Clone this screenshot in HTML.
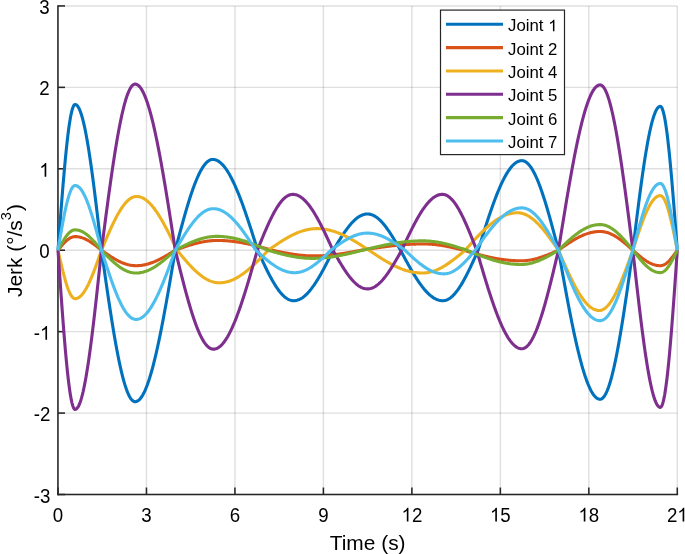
<!DOCTYPE html>
<html><head><meta charset="utf-8"><style>
html,body{margin:0;padding:0;background:#fff;overflow:hidden;}
svg{display:block;will-change:transform;}
</style></head><body>
<svg width="685" height="554" viewBox="0 0 685 554"><rect width="685" height="554" fill="#ffffff"/><g stroke="#262626" stroke-opacity="0.15" stroke-width="1.4"><line x1="58.00" y1="5.93" x2="58.00" y2="494.51"/><line x1="146.47" y1="5.93" x2="146.47" y2="494.51"/><line x1="234.94" y1="5.93" x2="234.94" y2="494.51"/><line x1="323.41" y1="5.93" x2="323.41" y2="494.51"/><line x1="411.88" y1="5.93" x2="411.88" y2="494.51"/><line x1="500.35" y1="5.93" x2="500.35" y2="494.51"/><line x1="588.82" y1="5.93" x2="588.82" y2="494.51"/><line x1="677.29" y1="5.93" x2="677.29" y2="494.51"/><line x1="58.00" y1="494.51" x2="677.29" y2="494.51"/><line x1="58.00" y1="413.08" x2="677.29" y2="413.08"/><line x1="58.00" y1="331.65" x2="677.29" y2="331.65"/><line x1="58.00" y1="250.22" x2="677.29" y2="250.22"/><line x1="58.00" y1="168.79" x2="677.29" y2="168.79"/><line x1="58.00" y1="87.36" x2="677.29" y2="87.36"/><line x1="58.00" y1="5.93" x2="677.29" y2="5.93"/></g><g stroke="#262626" stroke-width="1.55" stroke-linecap="butt"><line x1="57.95" y1="5.15" x2="57.95" y2="495.28"/><line x1="57.18" y1="494.51" x2="678.06" y2="494.51"/><line x1="57.95" y1="494.51" x2="65.00" y2="494.51"/><line x1="57.95" y1="413.08" x2="65.00" y2="413.08"/><line x1="57.95" y1="331.65" x2="65.00" y2="331.65"/><line x1="57.95" y1="250.22" x2="65.00" y2="250.22"/><line x1="57.95" y1="168.79" x2="65.00" y2="168.79"/><line x1="57.95" y1="87.36" x2="65.00" y2="87.36"/><line x1="57.95" y1="5.93" x2="65.00" y2="5.93"/><line x1="58.00" y1="494.51" x2="58.00" y2="487.51"/><line x1="146.47" y1="494.51" x2="146.47" y2="487.51"/><line x1="234.94" y1="494.51" x2="234.94" y2="487.51"/><line x1="323.41" y1="494.51" x2="323.41" y2="487.51"/><line x1="411.88" y1="494.51" x2="411.88" y2="487.51"/><line x1="500.35" y1="494.51" x2="500.35" y2="487.51"/><line x1="588.82" y1="494.51" x2="588.82" y2="487.51"/><line x1="677.29" y1="494.51" x2="677.29" y2="487.51"/></g><path d="M58.00,250.22 L58.74,240.35 L59.47,230.53 L60.21,220.80 L60.95,211.20 L61.69,201.78 L62.42,192.59 L63.16,183.66 L63.90,175.03 L64.64,166.75 L65.37,158.85 L66.11,151.38 L66.85,144.35 L67.58,137.81 L68.32,131.79 L69.06,126.31 L69.80,121.40 L70.53,117.07 L71.27,113.36 L72.01,110.28 L72.75,107.84 L73.48,106.06 L74.22,104.93 L74.96,104.47 L75.69,104.55 L76.43,104.92 L77.17,105.57 L77.91,106.50 L78.64,107.70 L79.38,109.18 L80.12,110.93 L80.85,112.95 L81.59,115.23 L82.33,117.77 L83.07,120.57 L83.80,123.61 L84.54,126.90 L85.28,130.43 L86.02,134.19 L86.75,138.17 L87.49,142.37 L88.23,146.77 L88.96,151.38 L89.70,156.17 L90.44,161.15 L91.18,166.29 L91.91,171.60 L92.65,177.06 L93.39,182.66 L94.13,188.39 L94.86,194.24 L95.60,200.20 L96.34,206.25 L97.07,212.39 L97.81,218.60 L98.55,224.88 L99.29,231.20 L100.02,237.56 L100.76,243.94 L101.50,250.31 L102.23,255.52 L102.97,260.73 L103.71,265.92 L104.45,271.09 L105.18,276.24 L105.92,281.36 L106.66,286.44 L107.40,291.48 L108.13,296.47 L108.87,301.40 L109.61,306.28 L110.34,311.09 L111.08,315.82 L111.82,320.48 L112.56,325.05 L113.29,329.54 L114.03,333.93 L114.77,338.23 L115.51,342.42 L116.24,346.50 L116.98,350.46 L117.72,354.31 L118.45,358.03 L119.19,361.63 L119.93,365.09 L120.67,368.42 L121.40,371.61 L122.14,374.65 L122.88,377.55 L123.62,380.30 L124.35,382.89 L125.09,385.33 L125.83,387.60 L126.56,389.71 L127.30,391.66 L128.04,393.44 L128.78,395.05 L129.51,396.49 L130.25,397.76 L130.99,398.85 L131.72,399.76 L132.46,400.50 L133.20,401.06 L133.94,401.44 L134.67,401.64 L135.41,401.67 L136.15,401.56 L136.89,401.33 L137.62,400.96 L138.36,400.48 L139.10,399.87 L139.83,399.13 L140.57,398.27 L141.31,397.29 L142.05,396.18 L142.78,394.95 L143.52,393.60 L144.26,392.14 L145.00,390.55 L145.73,388.85 L146.47,387.03 L147.21,385.10 L147.94,383.06 L148.68,380.91 L149.42,378.64 L150.16,376.27 L150.89,373.80 L151.63,371.22 L152.37,368.55 L153.11,365.77 L153.84,362.90 L154.58,359.93 L155.32,356.87 L156.05,353.73 L156.79,350.50 L157.53,347.18 L158.27,343.78 L159.00,340.31 L159.74,336.76 L160.48,333.14 L161.21,329.45 L161.95,325.69 L162.69,321.88 L163.43,318.00 L164.16,314.06 L164.90,310.07 L165.64,306.04 L166.38,301.95 L167.11,297.83 L167.85,293.66 L168.59,289.46 L169.32,285.22 L170.06,280.96 L170.80,276.67 L171.54,272.35 L172.27,268.02 L173.01,263.68 L173.75,259.32 L174.49,254.96 L175.22,250.59 L175.96,247.65 L176.70,244.85 L177.43,242.05 L178.17,239.26 L178.91,236.49 L179.65,233.72 L180.38,230.97 L181.12,228.24 L181.86,225.53 L182.60,222.84 L183.33,220.18 L184.07,217.55 L184.81,214.95 L185.54,212.38 L186.28,209.85 L187.02,207.36 L187.76,204.91 L188.49,202.50 L189.23,200.14 L189.97,197.82 L190.70,195.56 L191.44,193.34 L192.18,191.18 L192.92,189.08 L193.65,187.04 L194.39,185.05 L195.13,183.13 L195.87,181.28 L196.60,179.48 L197.34,177.76 L198.08,176.10 L198.81,174.52 L199.55,173.01 L200.29,171.57 L201.03,170.21 L201.76,168.92 L202.50,167.71 L203.24,166.58 L203.98,165.53 L204.71,164.56 L205.45,163.67 L206.19,162.86 L206.92,162.14 L207.66,161.50 L208.40,160.95 L209.14,160.48 L209.87,160.10 L210.61,159.80 L211.35,159.59 L212.09,159.46 L212.82,159.43 L213.56,159.46 L214.30,159.55 L215.03,159.71 L215.77,159.92 L216.51,160.20 L217.25,160.54 L217.98,160.93 L218.72,161.38 L219.46,161.90 L220.19,162.47 L220.93,163.10 L221.67,163.79 L222.41,164.54 L223.14,165.34 L223.88,166.20 L224.62,167.12 L225.36,168.09 L226.09,169.12 L226.83,170.20 L227.57,171.33 L228.30,172.52 L229.04,173.75 L229.78,175.04 L230.52,176.38 L231.25,177.77 L231.99,179.21 L232.73,180.69 L233.47,182.22 L234.20,183.79 L234.94,185.41 L235.68,187.08 L236.41,188.78 L237.15,190.53 L237.89,192.31 L238.63,194.14 L239.36,196.00 L240.10,197.89 L240.84,199.83 L241.58,201.79 L242.31,203.79 L243.05,205.82 L243.79,207.88 L244.52,209.97 L245.26,212.08 L246.00,214.22 L246.74,216.38 L247.47,218.57 L248.21,220.77 L248.95,223.00 L249.69,225.24 L250.42,227.50 L251.16,229.78 L251.90,232.07 L252.63,234.37 L253.37,236.68 L254.11,239.01 L254.85,241.33 L255.58,243.67 L256.32,246.01 L257.06,248.35 L257.79,250.55 L258.53,252.17 L259.27,253.79 L260.01,255.41 L260.74,257.02 L261.48,258.63 L262.22,260.22 L262.96,261.81 L263.69,263.38 L264.43,264.94 L265.17,266.49 L265.90,268.02 L266.64,269.53 L267.38,271.02 L268.12,272.48 L268.85,273.93 L269.59,275.35 L270.33,276.74 L271.07,278.11 L271.80,279.45 L272.54,280.76 L273.28,282.04 L274.01,283.28 L274.75,284.49 L275.49,285.66 L276.23,286.80 L276.96,287.90 L277.70,288.96 L278.44,289.98 L279.17,290.96 L279.91,291.90 L280.65,292.79 L281.39,293.64 L282.12,294.45 L282.86,295.21 L283.60,295.92 L284.34,296.59 L285.07,297.21 L285.81,297.78 L286.55,298.30 L287.28,298.77 L288.02,299.19 L288.76,299.56 L289.50,299.88 L290.23,300.14 L290.97,300.36 L291.71,300.52 L292.45,300.64 L293.18,300.70 L293.92,300.70 L294.66,300.67 L295.39,300.59 L296.13,300.46 L296.87,300.30 L297.61,300.09 L298.34,299.84 L299.08,299.54 L299.82,299.20 L300.56,298.83 L301.29,298.41 L302.03,297.94 L302.77,297.44 L303.50,296.90 L304.24,296.31 L304.98,295.69 L305.72,295.03 L306.45,294.33 L307.19,293.59 L307.93,292.82 L308.66,292.01 L309.40,291.16 L310.14,290.28 L310.88,289.36 L311.61,288.41 L312.35,287.43 L313.09,286.41 L313.83,285.37 L314.56,284.29 L315.30,283.18 L316.04,282.05 L316.77,280.89 L317.51,279.70 L318.25,278.49 L318.99,277.25 L319.72,276.00 L320.46,274.71 L321.20,273.41 L321.94,272.09 L322.67,270.75 L323.41,269.39 L324.15,268.01 L324.88,266.62 L325.62,265.22 L326.36,263.80 L327.10,262.37 L327.83,260.93 L328.57,259.48 L329.31,258.03 L330.05,256.56 L330.78,255.09 L331.52,253.62 L332.26,252.14 L332.99,250.67 L333.73,249.36 L334.47,248.14 L335.21,246.92 L335.94,245.70 L336.68,244.49 L337.42,243.28 L338.15,242.08 L338.89,240.89 L339.63,239.71 L340.37,238.55 L341.10,237.39 L341.84,236.26 L342.58,235.13 L343.32,234.03 L344.05,232.94 L344.79,231.87 L345.53,230.83 L346.26,229.80 L347.00,228.80 L347.74,227.83 L348.48,226.88 L349.21,225.95 L349.95,225.06 L350.69,224.19 L351.43,223.35 L352.16,222.54 L352.90,221.77 L353.64,221.03 L354.37,220.32 L355.11,219.64 L355.85,219.00 L356.59,218.40 L357.32,217.83 L358.06,217.30 L358.80,216.81 L359.54,216.35 L360.27,215.94 L361.01,215.56 L361.75,215.22 L362.48,214.92 L363.22,214.67 L363.96,214.45 L364.70,214.27 L365.43,214.14 L366.17,214.05 L366.91,214.00 L367.64,213.99 L368.38,214.02 L369.12,214.10 L369.86,214.22 L370.59,214.38 L371.33,214.59 L372.07,214.85 L372.81,215.15 L373.54,215.49 L374.28,215.87 L375.02,216.29 L375.75,216.76 L376.49,217.27 L377.23,217.82 L377.97,218.41 L378.70,219.03 L379.44,219.70 L380.18,220.40 L380.92,221.14 L381.65,221.91 L382.39,222.72 L383.13,223.57 L383.86,224.44 L384.60,225.35 L385.34,226.29 L386.08,227.26 L386.81,228.25 L387.55,229.28 L388.29,230.32 L389.03,231.40 L389.76,232.49 L390.50,233.61 L391.24,234.75 L391.97,235.90 L392.71,237.08 L393.45,238.27 L394.19,239.48 L394.92,240.69 L395.66,241.92 L396.40,243.16 L397.13,244.41 L397.87,245.67 L398.61,246.93 L399.35,248.20 L400.08,249.47 L400.82,250.78 L401.56,252.17 L402.30,253.55 L403.03,254.93 L403.77,256.31 L404.51,257.68 L405.24,259.05 L405.98,260.41 L406.72,261.76 L407.46,263.10 L408.19,264.44 L408.93,265.76 L409.67,267.07 L410.41,268.37 L411.14,269.66 L411.88,270.93 L412.62,272.18 L413.35,273.42 L414.09,274.64 L414.83,275.85 L415.57,277.03 L416.30,278.19 L417.04,279.33 L417.78,280.46 L418.52,281.55 L419.25,282.63 L419.99,283.68 L420.73,284.70 L421.46,285.70 L422.20,286.67 L422.94,287.62 L423.68,288.53 L424.41,289.42 L425.15,290.28 L425.89,291.11 L426.62,291.90 L427.36,292.67 L428.10,293.40 L428.84,294.10 L429.57,294.77 L430.31,295.41 L431.05,296.01 L431.79,296.57 L432.52,297.10 L433.26,297.60 L434.00,298.06 L434.73,298.49 L435.47,298.87 L436.21,299.22 L436.95,299.54 L437.68,299.82 L438.42,300.06 L439.16,300.26 L439.90,300.42 L440.63,300.55 L441.37,300.64 L442.11,300.69 L442.84,300.71 L443.58,300.67 L444.32,300.58 L445.06,300.44 L445.79,300.24 L446.53,299.99 L447.27,299.69 L448.01,299.33 L448.74,298.93 L449.48,298.47 L450.22,297.95 L450.95,297.39 L451.69,296.78 L452.43,296.11 L453.17,295.40 L453.90,294.64 L454.64,293.83 L455.38,292.98 L456.11,292.08 L456.85,291.13 L457.59,290.15 L458.33,289.11 L459.06,288.04 L459.80,286.93 L460.54,285.78 L461.28,284.59 L462.01,283.36 L462.75,282.10 L463.49,280.80 L464.22,279.47 L464.96,278.11 L465.70,276.72 L466.44,275.30 L467.17,273.85 L467.91,272.38 L468.65,270.89 L469.39,269.37 L470.12,267.83 L470.86,266.28 L471.60,264.71 L472.33,263.12 L473.07,261.51 L473.81,259.90 L474.55,258.28 L475.28,256.64 L476.02,255.00 L476.76,253.36 L477.50,251.71 L478.23,249.99 L478.97,247.61 L479.71,245.24 L480.44,242.87 L481.18,240.51 L481.92,238.15 L482.66,235.80 L483.39,233.47 L484.13,231.14 L484.87,228.83 L485.60,226.53 L486.34,224.25 L487.08,221.98 L487.82,219.74 L488.55,217.52 L489.29,215.32 L490.03,213.15 L490.77,211.00 L491.50,208.88 L492.24,206.79 L492.98,204.73 L493.71,202.70 L494.45,200.70 L495.19,198.74 L495.93,196.82 L496.66,194.93 L497.40,193.08 L498.14,191.27 L498.88,189.51 L499.61,187.78 L500.35,186.10 L501.09,184.47 L501.82,182.88 L502.56,181.34 L503.30,179.84 L504.04,178.40 L504.77,177.00 L505.51,175.66 L506.25,174.37 L506.99,173.14 L507.72,171.95 L508.46,170.83 L509.20,169.76 L509.93,168.74 L510.67,167.78 L511.41,166.88 L512.15,166.04 L512.88,165.26 L513.62,164.54 L514.36,163.88 L515.10,163.28 L515.83,162.74 L516.57,162.26 L517.31,161.84 L518.04,161.48 L518.78,161.19 L519.52,160.96 L520.26,160.79 L520.99,160.69 L521.73,160.65 L522.47,160.68 L523.20,160.80 L523.94,161.01 L524.68,161.31 L525.42,161.69 L526.15,162.17 L526.89,162.73 L527.63,163.39 L528.37,164.13 L529.10,164.95 L529.84,165.86 L530.58,166.86 L531.31,167.93 L532.05,169.09 L532.79,170.34 L533.53,171.66 L534.26,173.06 L535.00,174.54 L535.74,176.09 L536.48,177.72 L537.21,179.42 L537.95,181.19 L538.69,183.03 L539.42,184.94 L540.16,186.91 L540.90,188.94 L541.64,191.04 L542.37,193.20 L543.11,195.41 L543.85,197.68 L544.59,200.00 L545.32,202.37 L546.06,204.79 L546.80,207.26 L547.53,209.76 L548.27,212.31 L549.01,214.90 L549.75,217.52 L550.48,220.17 L551.22,222.86 L551.96,225.57 L552.69,228.31 L553.43,231.06 L554.17,233.84 L554.91,236.64 L555.64,239.44 L556.38,242.26 L557.12,245.09 L557.86,247.92 L558.59,251.00 L559.33,255.14 L560.07,259.28 L560.80,263.42 L561.54,267.54 L562.28,271.65 L563.02,275.75 L563.75,279.82 L564.49,283.87 L565.23,287.90 L565.97,291.90 L566.70,295.86 L567.44,299.79 L568.18,303.68 L568.91,307.53 L569.65,311.33 L570.39,315.09 L571.13,318.80 L571.86,322.45 L572.60,326.05 L573.34,329.59 L574.07,333.06 L574.81,336.48 L575.55,339.83 L576.29,343.10 L577.02,346.31 L577.76,349.44 L578.50,352.50 L579.24,355.47 L579.97,358.36 L580.71,361.17 L581.45,363.90 L582.18,366.54 L582.92,369.08 L583.66,371.54 L584.40,373.90 L585.13,376.16 L585.87,378.33 L586.61,380.40 L587.35,382.36 L588.08,384.23 L588.82,385.99 L589.56,387.65 L590.29,389.20 L591.03,390.64 L591.77,391.97 L592.51,393.20 L593.24,394.31 L593.98,395.31 L594.72,396.20 L595.46,396.98 L596.19,397.64 L596.93,398.19 L597.67,398.62 L598.40,398.94 L599.14,399.14 L599.88,399.23 L600.62,399.19 L601.35,398.96 L602.09,398.54 L602.83,397.94 L603.56,397.16 L604.30,396.19 L605.04,395.04 L605.78,393.71 L606.51,392.20 L607.25,390.51 L607.99,388.65 L608.73,386.61 L609.46,384.41 L610.20,382.03 L610.94,379.50 L611.67,376.80 L612.41,373.94 L613.15,370.92 L613.89,367.76 L614.62,364.45 L615.36,361.00 L616.10,357.41 L616.84,353.68 L617.57,349.83 L618.31,345.85 L619.05,341.75 L619.78,337.54 L620.52,333.22 L621.26,328.79 L622.00,324.27 L622.73,319.66 L623.47,314.95 L624.21,310.17 L624.95,305.31 L625.68,300.39 L626.42,295.40 L627.16,290.35 L627.89,285.25 L628.63,280.11 L629.37,274.94 L630.11,269.73 L630.84,264.50 L631.58,259.25 L632.32,253.98 L633.05,248.49 L633.79,242.42 L634.53,236.37 L635.27,230.34 L636.00,224.35 L636.74,218.41 L637.48,212.52 L638.22,206.70 L638.95,200.95 L639.69,195.29 L640.43,189.73 L641.16,184.28 L641.90,178.95 L642.64,173.74 L643.38,168.67 L644.11,163.74 L644.85,158.97 L645.59,154.36 L646.33,149.92 L647.06,145.66 L647.80,141.58 L648.54,137.70 L649.27,134.02 L650.01,130.54 L650.75,127.28 L651.49,124.24 L652.22,121.42 L652.96,118.83 L653.70,116.47 L654.44,114.35 L655.17,112.48 L655.91,110.85 L656.65,109.46 L657.38,108.33 L658.12,107.45 L658.86,106.82 L659.60,106.45 L660.33,106.33 L661.07,106.70 L661.81,107.73 L662.54,109.43 L663.28,111.77 L664.02,114.76 L664.76,118.38 L665.49,122.61 L666.23,127.44 L666.97,132.83 L667.71,138.77 L668.44,145.23 L669.18,152.17 L669.92,159.57 L670.65,167.39 L671.39,175.60 L672.13,184.15 L672.87,193.01 L673.60,202.13 L674.34,211.48 L675.08,221.00 L675.82,230.67 L676.55,240.42 L677.29,250.22" fill="none" stroke="#0072BD" stroke-width="3.1" stroke-linejoin="round" stroke-linecap="butt"/><path d="M58.00,250.22 L58.74,249.30 L59.47,248.38 L60.21,247.48 L60.95,246.58 L61.69,245.70 L62.42,244.84 L63.16,244.01 L63.90,243.21 L64.64,242.43 L65.37,241.70 L66.11,241.00 L66.85,240.34 L67.58,239.73 L68.32,239.17 L69.06,238.66 L69.80,238.20 L70.53,237.80 L71.27,237.45 L72.01,237.16 L72.75,236.94 L73.48,236.77 L74.22,236.67 L74.96,236.62 L75.69,236.63 L76.43,236.66 L77.17,236.72 L77.91,236.81 L78.64,236.92 L79.38,237.06 L80.12,237.22 L80.85,237.41 L81.59,237.63 L82.33,237.86 L83.07,238.12 L83.80,238.41 L84.54,238.71 L85.28,239.04 L86.02,239.39 L86.75,239.77 L87.49,240.16 L88.23,240.57 L88.96,241.00 L89.70,241.45 L90.44,241.91 L91.18,242.39 L91.91,242.89 L92.65,243.39 L93.39,243.92 L94.13,244.45 L94.86,245.00 L95.60,245.55 L96.34,246.12 L97.07,246.69 L97.81,247.27 L98.55,247.86 L99.29,248.45 L100.02,249.04 L100.76,249.63 L101.50,250.23 L102.23,250.75 L102.97,251.27 L103.71,251.78 L104.45,252.30 L105.18,252.81 L105.92,253.32 L106.66,253.83 L107.40,254.33 L108.13,254.83 L108.87,255.32 L109.61,255.81 L110.34,256.29 L111.08,256.76 L111.82,257.23 L112.56,257.69 L113.29,258.14 L114.03,258.58 L114.77,259.01 L115.51,259.43 L116.24,259.84 L116.98,260.24 L117.72,260.63 L118.45,261.01 L119.19,261.38 L119.93,261.73 L120.67,262.07 L121.40,262.40 L122.14,262.71 L122.88,263.01 L123.62,263.29 L124.35,263.56 L125.09,263.82 L125.83,264.06 L126.56,264.28 L127.30,264.49 L128.04,264.68 L128.78,264.86 L129.51,265.02 L130.25,265.16 L130.99,265.29 L131.72,265.40 L132.46,265.49 L133.20,265.56 L133.94,265.62 L134.67,265.66 L135.41,265.69 L136.15,265.69 L136.89,265.68 L137.62,265.66 L138.36,265.62 L139.10,265.57 L139.83,265.51 L140.57,265.44 L141.31,265.35 L142.05,265.24 L142.78,265.13 L143.52,265.00 L144.26,264.86 L145.00,264.71 L145.73,264.54 L146.47,264.36 L147.21,264.17 L147.94,263.97 L148.68,263.75 L149.42,263.52 L150.16,263.28 L150.89,263.03 L151.63,262.77 L152.37,262.50 L153.11,262.22 L153.84,261.92 L154.58,261.62 L155.32,261.31 L156.05,260.98 L156.79,260.65 L157.53,260.31 L158.27,259.96 L159.00,259.60 L159.74,259.23 L160.48,258.86 L161.21,258.48 L161.95,258.09 L162.69,257.69 L163.43,257.29 L164.16,256.88 L164.90,256.46 L165.64,256.04 L166.38,255.62 L167.11,255.19 L167.85,254.75 L168.59,254.32 L169.32,253.87 L170.06,253.43 L170.80,252.98 L171.54,252.53 L172.27,252.08 L173.01,251.63 L173.75,251.17 L174.49,250.71 L175.22,250.26 L175.96,249.97 L176.70,249.71 L177.43,249.44 L178.17,249.17 L178.91,248.91 L179.65,248.64 L180.38,248.38 L181.12,248.11 L181.86,247.85 L182.60,247.59 L183.33,247.34 L184.07,247.08 L184.81,246.83 L185.54,246.58 L186.28,246.33 L187.02,246.09 L187.76,245.85 L188.49,245.61 L189.23,245.37 L189.97,245.14 L190.70,244.92 L191.44,244.69 L192.18,244.47 L192.92,244.26 L193.65,244.05 L194.39,243.84 L195.13,243.64 L195.87,243.45 L196.60,243.26 L197.34,243.07 L198.08,242.89 L198.81,242.72 L199.55,242.55 L200.29,242.38 L201.03,242.23 L201.76,242.08 L202.50,241.93 L203.24,241.79 L203.98,241.66 L204.71,241.53 L205.45,241.41 L206.19,241.30 L206.92,241.20 L207.66,241.10 L208.40,241.00 L209.14,240.92 L209.87,240.84 L210.61,240.77 L211.35,240.70 L212.09,240.65 L212.82,240.60 L213.56,240.55 L214.30,240.52 L215.03,240.49 L215.77,240.47 L216.51,240.46 L217.25,240.45 L217.98,240.45 L218.72,240.45 L219.46,240.46 L220.19,240.48 L220.93,240.50 L221.67,240.52 L222.41,240.55 L223.14,240.58 L223.88,240.61 L224.62,240.65 L225.36,240.70 L226.09,240.75 L226.83,240.80 L227.57,240.86 L228.30,240.92 L229.04,240.98 L229.78,241.05 L230.52,241.13 L231.25,241.20 L231.99,241.29 L232.73,241.37 L233.47,241.46 L234.20,241.55 L234.94,241.65 L235.68,241.75 L236.41,241.86 L237.15,241.97 L237.89,242.08 L238.63,242.20 L239.36,242.32 L240.10,242.44 L240.84,242.57 L241.58,242.70 L242.31,242.83 L243.05,242.97 L243.79,243.11 L244.52,243.25 L245.26,243.40 L246.00,243.55 L246.74,243.70 L247.47,243.86 L248.21,244.02 L248.95,244.18 L249.69,244.35 L250.42,244.51 L251.16,244.68 L251.90,244.85 L252.63,245.03 L253.37,245.20 L254.11,245.38 L254.85,245.56 L255.58,245.75 L256.32,245.93 L257.06,246.12 L257.79,246.31 L258.53,246.50 L259.27,246.69 L260.01,246.89 L260.74,247.08 L261.48,247.28 L262.22,247.48 L262.96,247.68 L263.69,247.88 L264.43,248.08 L265.17,248.28 L265.90,248.49 L266.64,248.69 L267.38,248.89 L268.12,249.10 L268.85,249.31 L269.59,249.51 L270.33,249.72 L271.07,249.93 L271.80,250.13 L272.54,250.31 L273.28,250.47 L274.01,250.62 L274.75,250.78 L275.49,250.93 L276.23,251.09 L276.96,251.24 L277.70,251.40 L278.44,251.55 L279.17,251.70 L279.91,251.85 L280.65,252.00 L281.39,252.15 L282.12,252.30 L282.86,252.44 L283.60,252.58 L284.34,252.72 L285.07,252.86 L285.81,253.00 L286.55,253.14 L287.28,253.27 L288.02,253.40 L288.76,253.53 L289.50,253.66 L290.23,253.78 L290.97,253.90 L291.71,254.02 L292.45,254.13 L293.18,254.25 L293.92,254.35 L294.66,254.46 L295.39,254.56 L296.13,254.66 L296.87,254.76 L297.61,254.85 L298.34,254.94 L299.08,255.03 L299.82,255.11 L300.56,255.19 L301.29,255.26 L302.03,255.33 L302.77,255.40 L303.50,255.46 L304.24,255.52 L304.98,255.58 L305.72,255.63 L306.45,255.68 L307.19,255.72 L307.93,255.76 L308.66,255.79 L309.40,255.82 L310.14,255.85 L310.88,255.87 L311.61,255.89 L312.35,255.90 L313.09,255.91 L313.83,255.92 L314.56,255.92 L315.30,255.92 L316.04,255.91 L316.77,255.90 L317.51,255.89 L318.25,255.87 L318.99,255.85 L319.72,255.83 L320.46,255.80 L321.20,255.77 L321.94,255.74 L322.67,255.70 L323.41,255.66 L324.15,255.61 L324.88,255.57 L325.62,255.52 L326.36,255.46 L327.10,255.41 L327.83,255.35 L328.57,255.28 L329.31,255.22 L330.05,255.15 L330.78,255.08 L331.52,255.00 L332.26,254.92 L332.99,254.84 L333.73,254.76 L334.47,254.67 L335.21,254.58 L335.94,254.49 L336.68,254.40 L337.42,254.30 L338.15,254.20 L338.89,254.10 L339.63,254.00 L340.37,253.89 L341.10,253.78 L341.84,253.67 L342.58,253.56 L343.32,253.44 L344.05,253.32 L344.79,253.21 L345.53,253.08 L346.26,252.96 L347.00,252.84 L347.74,252.71 L348.48,252.59 L349.21,252.46 L349.95,252.33 L350.69,252.20 L351.43,252.06 L352.16,251.93 L352.90,251.79 L353.64,251.66 L354.37,251.52 L355.11,251.38 L355.85,251.25 L356.59,251.11 L357.32,250.97 L358.06,250.83 L358.80,250.69 L359.54,250.55 L360.27,250.41 L361.01,250.27 L361.75,250.14 L362.48,250.03 L363.22,249.91 L363.96,249.79 L364.70,249.68 L365.43,249.56 L366.17,249.45 L366.91,249.33 L367.64,249.21 L368.38,249.10 L369.12,248.99 L369.86,248.87 L370.59,248.76 L371.33,248.64 L372.07,248.53 L372.81,248.42 L373.54,248.31 L374.28,248.20 L375.02,248.09 L375.75,247.98 L376.49,247.87 L377.23,247.76 L377.97,247.66 L378.70,247.55 L379.44,247.44 L380.18,247.34 L380.92,247.24 L381.65,247.14 L382.39,247.03 L383.13,246.93 L383.86,246.84 L384.60,246.74 L385.34,246.64 L386.08,246.55 L386.81,246.45 L387.55,246.36 L388.29,246.27 L389.03,246.18 L389.76,246.09 L390.50,246.00 L391.24,245.92 L391.97,245.83 L392.71,245.75 L393.45,245.67 L394.19,245.59 L394.92,245.51 L395.66,245.44 L396.40,245.36 L397.13,245.29 L397.87,245.22 L398.61,245.15 L399.35,245.08 L400.08,245.02 L400.82,244.95 L401.56,244.89 L402.30,244.83 L403.03,244.77 L403.77,244.71 L404.51,244.66 L405.24,244.61 L405.98,244.56 L406.72,244.51 L407.46,244.46 L408.19,244.41 L408.93,244.37 L409.67,244.33 L410.41,244.29 L411.14,244.25 L411.88,244.22 L412.62,244.19 L413.35,244.16 L414.09,244.13 L414.83,244.10 L415.57,244.08 L416.30,244.05 L417.04,244.03 L417.78,244.02 L418.52,244.00 L419.25,243.99 L419.99,243.98 L420.73,243.97 L421.46,243.96 L422.20,243.95 L422.94,243.95 L423.68,243.95 L424.41,243.95 L425.15,243.96 L425.89,243.98 L426.62,244.00 L427.36,244.02 L428.10,244.05 L428.84,244.09 L429.57,244.13 L430.31,244.17 L431.05,244.22 L431.79,244.28 L432.52,244.34 L433.26,244.40 L434.00,244.47 L434.73,244.55 L435.47,244.63 L436.21,244.71 L436.95,244.80 L437.68,244.90 L438.42,245.00 L439.16,245.10 L439.90,245.21 L440.63,245.32 L441.37,245.43 L442.11,245.55 L442.84,245.68 L443.58,245.81 L444.32,245.94 L445.06,246.07 L445.79,246.21 L446.53,246.35 L447.27,246.50 L448.01,246.64 L448.74,246.80 L449.48,246.95 L450.22,247.11 L450.95,247.27 L451.69,247.43 L452.43,247.59 L453.17,247.76 L453.90,247.93 L454.64,248.10 L455.38,248.27 L456.11,248.44 L456.85,248.62 L457.59,248.80 L458.33,248.97 L459.06,249.15 L459.80,249.33 L460.54,249.51 L461.28,249.70 L462.01,249.88 L462.75,250.06 L463.49,250.25 L464.22,250.46 L464.96,250.67 L465.70,250.88 L466.44,251.10 L467.17,251.31 L467.91,251.52 L468.65,251.73 L469.39,251.94 L470.12,252.15 L470.86,252.36 L471.60,252.57 L472.33,252.78 L473.07,252.98 L473.81,253.19 L474.55,253.39 L475.28,253.59 L476.02,253.79 L476.76,253.99 L477.50,254.19 L478.23,254.39 L478.97,254.58 L479.71,254.78 L480.44,254.97 L481.18,255.16 L481.92,255.34 L482.66,255.53 L483.39,255.71 L484.13,255.89 L484.87,256.07 L485.60,256.25 L486.34,256.42 L487.08,256.59 L487.82,256.76 L488.55,256.93 L489.29,257.09 L490.03,257.25 L490.77,257.41 L491.50,257.57 L492.24,257.72 L492.98,257.87 L493.71,258.01 L494.45,258.15 L495.19,258.29 L495.93,258.43 L496.66,258.56 L497.40,258.69 L498.14,258.82 L498.88,258.94 L499.61,259.06 L500.35,259.17 L501.09,259.29 L501.82,259.39 L502.56,259.50 L503.30,259.60 L504.04,259.70 L504.77,259.79 L505.51,259.88 L506.25,259.96 L506.99,260.05 L507.72,260.12 L508.46,260.20 L509.20,260.26 L509.93,260.33 L510.67,260.39 L511.41,260.45 L512.15,260.50 L512.88,260.55 L513.62,260.59 L514.36,260.63 L515.10,260.67 L515.83,260.70 L516.57,260.73 L517.31,260.75 L518.04,260.77 L518.78,260.79 L519.52,260.80 L520.26,260.80 L520.99,260.81 L521.73,260.80 L522.47,260.78 L523.20,260.76 L523.94,260.72 L524.68,260.68 L525.42,260.62 L526.15,260.56 L526.89,260.48 L527.63,260.40 L528.37,260.30 L529.10,260.20 L529.84,260.08 L530.58,259.96 L531.31,259.83 L532.05,259.68 L532.79,259.53 L533.53,259.37 L534.26,259.20 L535.00,259.03 L535.74,258.84 L536.48,258.65 L537.21,258.45 L537.95,258.24 L538.69,258.02 L539.42,257.79 L540.16,257.56 L540.90,257.32 L541.64,257.08 L542.37,256.82 L543.11,256.57 L543.85,256.30 L544.59,256.03 L545.32,255.76 L546.06,255.47 L546.80,255.19 L547.53,254.90 L548.27,254.60 L549.01,254.30 L549.75,254.00 L550.48,253.69 L551.22,253.38 L551.96,253.07 L552.69,252.75 L553.43,252.43 L554.17,252.11 L554.91,251.79 L555.64,251.46 L556.38,251.14 L557.12,250.81 L557.86,250.49 L558.59,250.12 L559.33,249.60 L560.07,249.08 L560.80,248.56 L561.54,248.04 L562.28,247.53 L563.02,247.01 L563.75,246.50 L564.49,245.99 L565.23,245.48 L565.97,244.98 L566.70,244.48 L567.44,243.99 L568.18,243.50 L568.91,243.02 L569.65,242.54 L570.39,242.07 L571.13,241.60 L571.86,241.14 L572.60,240.69 L573.34,240.24 L574.07,239.81 L574.81,239.38 L575.55,238.96 L576.29,238.55 L577.02,238.14 L577.76,237.75 L578.50,237.37 L579.24,236.99 L579.97,236.63 L580.71,236.27 L581.45,235.93 L582.18,235.60 L582.92,235.28 L583.66,234.97 L584.40,234.68 L585.13,234.39 L585.87,234.12 L586.61,233.86 L587.35,233.61 L588.08,233.38 L588.82,233.16 L589.56,232.95 L590.29,232.75 L591.03,232.57 L591.77,232.40 L592.51,232.25 L593.24,232.11 L593.98,231.98 L594.72,231.87 L595.46,231.78 L596.19,231.69 L596.93,231.62 L597.67,231.57 L598.40,231.53 L599.14,231.50 L599.88,231.49 L600.62,231.50 L601.35,231.53 L602.09,231.58 L602.83,231.65 L603.56,231.75 L604.30,231.87 L605.04,232.02 L605.78,232.19 L606.51,232.38 L607.25,232.59 L607.99,232.82 L608.73,233.08 L609.46,233.35 L610.20,233.65 L610.94,233.97 L611.67,234.31 L612.41,234.67 L613.15,235.05 L613.89,235.45 L614.62,235.86 L615.36,236.30 L616.10,236.75 L616.84,237.22 L617.57,237.70 L618.31,238.20 L619.05,238.72 L619.78,239.25 L620.52,239.79 L621.26,240.34 L622.00,240.91 L622.73,241.49 L623.47,242.08 L624.21,242.69 L624.95,243.30 L625.68,243.92 L626.42,244.54 L627.16,245.18 L627.89,245.82 L628.63,246.46 L629.37,247.11 L630.11,247.77 L630.84,248.43 L631.58,249.09 L632.32,249.75 L633.05,250.41 L633.79,251.06 L634.53,251.71 L635.27,252.36 L636.00,253.00 L636.74,253.64 L637.48,254.27 L638.22,254.90 L638.95,255.52 L639.69,256.13 L640.43,256.72 L641.16,257.31 L641.90,257.88 L642.64,258.44 L643.38,258.99 L644.11,259.52 L644.85,260.03 L645.59,260.53 L646.33,261.01 L647.06,261.46 L647.80,261.90 L648.54,262.32 L649.27,262.71 L650.01,263.09 L650.75,263.44 L651.49,263.77 L652.22,264.07 L652.96,264.35 L653.70,264.60 L654.44,264.83 L655.17,265.03 L655.91,265.21 L656.65,265.36 L657.38,265.48 L658.12,265.57 L658.86,265.64 L659.60,265.68 L660.33,265.69 L661.07,265.65 L661.81,265.54 L662.54,265.36 L663.28,265.11 L664.02,264.79 L664.76,264.40 L665.49,263.94 L666.23,263.42 L666.97,262.84 L667.71,262.20 L668.44,261.51 L669.18,260.76 L669.92,259.97 L670.65,259.13 L671.39,258.24 L672.13,257.32 L672.87,256.37 L673.60,255.39 L674.34,254.39 L675.08,253.36 L675.82,252.32 L676.55,251.27 L677.29,250.22" fill="none" stroke="#D95319" stroke-width="3.1" stroke-linejoin="round" stroke-linecap="butt"/><path d="M58.00,250.22 L58.74,253.50 L59.47,256.76 L60.21,260.00 L60.95,263.19 L61.69,266.32 L62.42,269.38 L63.16,272.35 L63.90,275.21 L64.64,277.97 L65.37,280.59 L66.11,283.08 L66.85,285.41 L67.58,287.59 L68.32,289.59 L69.06,291.41 L69.80,293.04 L70.53,294.48 L71.27,295.71 L72.01,296.74 L72.75,297.55 L73.48,298.14 L74.22,298.51 L74.96,298.67 L75.69,298.64 L76.43,298.52 L77.17,298.30 L77.91,297.99 L78.64,297.59 L79.38,297.10 L80.12,296.52 L80.85,295.85 L81.59,295.09 L82.33,294.25 L83.07,293.32 L83.80,292.30 L84.54,291.21 L85.28,290.04 L86.02,288.79 L86.75,287.47 L87.49,286.07 L88.23,284.61 L88.96,283.08 L89.70,281.48 L90.44,279.83 L91.18,278.12 L91.91,276.35 L92.65,274.54 L93.39,272.68 L94.13,270.77 L94.86,268.83 L95.60,266.85 L96.34,264.83 L97.07,262.79 L97.81,260.73 L98.55,258.64 L99.29,256.54 L100.02,254.43 L100.76,252.31 L101.50,250.19 L102.23,248.42 L102.97,246.65 L103.71,244.88 L104.45,243.12 L105.18,241.37 L105.92,239.63 L106.66,237.90 L107.40,236.18 L108.13,234.48 L108.87,232.79 L109.61,231.13 L110.34,229.48 L111.08,227.86 L111.82,226.26 L112.56,224.69 L113.29,223.14 L114.03,221.63 L114.77,220.14 L115.51,218.69 L116.24,217.27 L116.98,215.89 L117.72,214.55 L118.45,213.24 L119.19,211.98 L119.93,210.75 L120.67,209.57 L121.40,208.43 L122.14,207.34 L122.88,206.30 L123.62,205.30 L124.35,204.35 L125.09,203.45 L125.83,202.61 L126.56,201.81 L127.30,201.07 L128.04,200.38 L128.78,199.74 L129.51,199.16 L130.25,198.64 L130.99,198.17 L131.72,197.76 L132.46,197.40 L133.20,197.10 L133.94,196.86 L134.67,196.68 L135.41,196.55 L136.15,196.49 L136.89,196.48 L137.62,196.52 L138.36,196.60 L139.10,196.73 L139.83,196.90 L140.57,197.11 L141.31,197.37 L142.05,197.67 L142.78,198.01 L143.52,198.40 L144.26,198.83 L145.00,199.30 L145.73,199.81 L146.47,200.37 L147.21,200.96 L147.94,201.60 L148.68,202.27 L149.42,202.99 L150.16,203.74 L150.89,204.53 L151.63,205.36 L152.37,206.23 L153.11,207.13 L153.84,208.07 L154.58,209.04 L155.32,210.04 L156.05,211.08 L156.79,212.15 L157.53,213.26 L158.27,214.39 L159.00,215.55 L159.74,216.74 L160.48,217.96 L161.21,219.20 L161.95,220.47 L162.69,221.76 L163.43,223.08 L164.16,224.42 L164.90,225.78 L165.64,227.16 L166.38,228.56 L167.11,229.98 L167.85,231.41 L168.59,232.86 L169.32,234.32 L170.06,235.80 L170.80,237.29 L171.54,238.79 L172.27,240.29 L173.01,241.81 L173.75,243.33 L174.49,244.86 L175.22,246.40 L175.96,247.93 L176.70,249.47 L177.43,250.68 L178.17,251.57 L178.91,252.46 L179.65,253.35 L180.38,254.24 L181.12,255.13 L181.86,256.01 L182.60,256.89 L183.33,257.76 L184.07,258.62 L184.81,259.48 L185.54,260.34 L186.28,261.18 L187.02,262.02 L187.76,262.85 L188.49,263.67 L189.23,264.48 L189.97,265.27 L190.70,266.06 L191.44,266.84 L192.18,267.60 L192.92,268.35 L193.65,269.08 L194.39,269.80 L195.13,270.51 L195.87,271.20 L196.60,271.88 L197.34,272.54 L198.08,273.18 L198.81,273.80 L199.55,274.41 L200.29,275.00 L201.03,275.57 L201.76,276.12 L202.50,276.65 L203.24,277.17 L203.98,277.66 L204.71,278.13 L205.45,278.58 L206.19,279.01 L206.92,279.42 L207.66,279.80 L208.40,280.16 L209.14,280.50 L209.87,280.82 L210.61,281.12 L211.35,281.39 L212.09,281.63 L212.82,281.86 L213.56,282.06 L214.30,282.24 L215.03,282.39 L215.77,282.52 L216.51,282.62 L217.25,282.70 L217.98,282.75 L218.72,282.79 L219.46,282.79 L220.19,282.78 L220.93,282.75 L221.67,282.70 L222.41,282.63 L223.14,282.54 L223.88,282.44 L224.62,282.31 L225.36,282.17 L226.09,282.02 L226.83,281.84 L227.57,281.65 L228.30,281.44 L229.04,281.21 L229.78,280.96 L230.52,280.70 L231.25,280.42 L231.99,280.12 L232.73,279.81 L233.47,279.48 L234.20,279.13 L234.94,278.77 L235.68,278.39 L236.41,278.00 L237.15,277.59 L237.89,277.16 L238.63,276.72 L239.36,276.27 L240.10,275.80 L240.84,275.31 L241.58,274.81 L242.31,274.30 L243.05,273.78 L243.79,273.24 L244.52,272.69 L245.26,272.13 L246.00,271.55 L246.74,270.96 L247.47,270.36 L248.21,269.75 L248.95,269.13 L249.69,268.50 L250.42,267.86 L251.16,267.21 L251.90,266.54 L252.63,265.87 L253.37,265.19 L254.11,264.51 L254.85,263.81 L255.58,263.11 L256.32,262.40 L257.06,261.68 L257.79,260.96 L258.53,260.23 L259.27,259.49 L260.01,258.75 L260.74,258.00 L261.48,257.26 L262.22,256.50 L262.96,255.74 L263.69,254.98 L264.43,254.22 L265.17,253.46 L265.90,252.69 L266.64,251.92 L267.38,251.15 L268.12,250.38 L268.85,249.82 L269.59,249.30 L270.33,248.79 L271.07,248.28 L271.80,247.77 L272.54,247.26 L273.28,246.75 L274.01,246.25 L274.75,245.74 L275.49,245.24 L276.23,244.75 L276.96,244.25 L277.70,243.76 L278.44,243.27 L279.17,242.79 L279.91,242.31 L280.65,241.83 L281.39,241.36 L282.12,240.90 L282.86,240.44 L283.60,239.98 L284.34,239.53 L285.07,239.09 L285.81,238.66 L286.55,238.23 L287.28,237.80 L288.02,237.39 L288.76,236.98 L289.50,236.58 L290.23,236.18 L290.97,235.80 L291.71,235.42 L292.45,235.05 L293.18,234.69 L293.92,234.34 L294.66,234.00 L295.39,233.66 L296.13,233.34 L296.87,233.02 L297.61,232.72 L298.34,232.42 L299.08,232.14 L299.82,231.86 L300.56,231.60 L301.29,231.34 L302.03,231.10 L302.77,230.87 L303.50,230.65 L304.24,230.44 L304.98,230.24 L305.72,230.05 L306.45,229.87 L307.19,229.71 L307.93,229.55 L308.66,229.41 L309.40,229.28 L310.14,229.16 L310.88,229.06 L311.61,228.96 L312.35,228.88 L313.09,228.81 L313.83,228.75 L314.56,228.71 L315.30,228.67 L316.04,228.65 L316.77,228.64 L317.51,228.64 L318.25,228.66 L318.99,228.68 L319.72,228.72 L320.46,228.76 L321.20,228.82 L321.94,228.88 L322.67,228.96 L323.41,229.05 L324.15,229.15 L324.88,229.25 L325.62,229.37 L326.36,229.50 L327.10,229.64 L327.83,229.79 L328.57,229.95 L329.31,230.12 L330.05,230.30 L330.78,230.49 L331.52,230.69 L332.26,230.90 L332.99,231.12 L333.73,231.35 L334.47,231.59 L335.21,231.83 L335.94,232.09 L336.68,232.36 L337.42,232.63 L338.15,232.91 L338.89,233.21 L339.63,233.51 L340.37,233.81 L341.10,234.13 L341.84,234.45 L342.58,234.79 L343.32,235.13 L344.05,235.47 L344.79,235.83 L345.53,236.19 L346.26,236.56 L347.00,236.94 L347.74,237.32 L348.48,237.71 L349.21,238.10 L349.95,238.50 L350.69,238.91 L351.43,239.32 L352.16,239.74 L352.90,240.16 L353.64,240.59 L354.37,241.02 L355.11,241.46 L355.85,241.90 L356.59,242.35 L357.32,242.80 L358.06,243.25 L358.80,243.71 L359.54,244.17 L360.27,244.63 L361.01,245.10 L361.75,245.57 L362.48,246.04 L363.22,246.51 L363.96,246.99 L364.70,247.46 L365.43,247.94 L366.17,248.42 L366.91,248.90 L367.64,249.38 L368.38,249.86 L369.12,250.34 L369.86,250.84 L370.59,251.33 L371.33,251.82 L372.07,252.32 L372.81,252.81 L373.54,253.30 L374.28,253.79 L375.02,254.27 L375.75,254.76 L376.49,255.24 L377.23,255.72 L377.97,256.20 L378.70,256.68 L379.44,257.15 L380.18,257.62 L380.92,258.08 L381.65,258.55 L382.39,259.00 L383.13,259.46 L383.86,259.91 L384.60,260.35 L385.34,260.79 L386.08,261.23 L386.81,261.66 L387.55,262.08 L388.29,262.50 L389.03,262.92 L389.76,263.32 L390.50,263.73 L391.24,264.12 L391.97,264.51 L392.71,264.89 L393.45,265.27 L394.19,265.63 L394.92,265.99 L395.66,266.35 L396.40,266.69 L397.13,267.03 L397.87,267.36 L398.61,267.68 L399.35,268.00 L400.08,268.30 L400.82,268.60 L401.56,268.89 L402.30,269.16 L403.03,269.44 L403.77,269.70 L404.51,269.95 L405.24,270.19 L405.98,270.43 L406.72,270.65 L407.46,270.86 L408.19,271.07 L408.93,271.26 L409.67,271.45 L410.41,271.63 L411.14,271.79 L411.88,271.95 L412.62,272.09 L413.35,272.22 L414.09,272.35 L414.83,272.46 L415.57,272.57 L416.30,272.66 L417.04,272.74 L417.78,272.81 L418.52,272.87 L419.25,272.92 L419.99,272.96 L420.73,272.99 L421.46,273.01 L422.20,273.02 L422.94,273.02 L423.68,272.99 L424.41,272.96 L425.15,272.90 L425.89,272.83 L426.62,272.74 L427.36,272.64 L428.10,272.52 L428.84,272.38 L429.57,272.23 L430.31,272.06 L431.05,271.87 L431.79,271.67 L432.52,271.46 L433.26,271.22 L434.00,270.98 L434.73,270.71 L435.47,270.43 L436.21,270.14 L436.95,269.83 L437.68,269.51 L438.42,269.18 L439.16,268.83 L439.90,268.46 L440.63,268.09 L441.37,267.70 L442.11,267.30 L442.84,266.88 L443.58,266.45 L444.32,266.01 L445.06,265.56 L445.79,265.10 L446.53,264.63 L447.27,264.15 L448.01,263.65 L448.74,263.15 L449.48,262.64 L450.22,262.11 L450.95,261.58 L451.69,261.04 L452.43,260.50 L453.17,259.94 L453.90,259.38 L454.64,258.81 L455.38,258.24 L456.11,257.66 L456.85,257.07 L457.59,256.48 L458.33,255.89 L459.06,255.29 L459.80,254.68 L460.54,254.08 L461.28,253.47 L462.01,252.86 L462.75,252.24 L463.49,251.63 L464.22,251.01 L464.96,250.40 L465.70,249.63 L466.44,248.80 L467.17,247.97 L467.91,247.14 L468.65,246.31 L469.39,245.49 L470.12,244.66 L470.86,243.85 L471.60,243.03 L472.33,242.22 L473.07,241.41 L473.81,240.60 L474.55,239.80 L475.28,239.01 L476.02,238.22 L476.76,237.43 L477.50,236.66 L478.23,235.89 L478.97,235.12 L479.71,234.37 L480.44,233.62 L481.18,232.88 L481.92,232.15 L482.66,231.42 L483.39,230.71 L484.13,230.01 L484.87,229.31 L485.60,228.63 L486.34,227.96 L487.08,227.29 L487.82,226.64 L488.55,226.00 L489.29,225.38 L490.03,224.76 L490.77,224.16 L491.50,223.57 L492.24,222.99 L492.98,222.43 L493.71,221.88 L494.45,221.34 L495.19,220.82 L495.93,220.31 L496.66,219.82 L497.40,219.34 L498.14,218.88 L498.88,218.44 L499.61,218.00 L500.35,217.59 L501.09,217.19 L501.82,216.81 L502.56,216.44 L503.30,216.09 L504.04,215.75 L504.77,215.44 L505.51,215.14 L506.25,214.86 L506.99,214.59 L507.72,214.34 L508.46,214.11 L509.20,213.90 L509.93,213.71 L510.67,213.53 L511.41,213.37 L512.15,213.23 L512.88,213.11 L513.62,213.01 L514.36,212.92 L515.10,212.85 L515.83,212.80 L516.57,212.77 L517.31,212.76 L518.04,212.77 L518.78,212.81 L519.52,212.88 L520.26,212.98 L520.99,213.11 L521.73,213.27 L522.47,213.46 L523.20,213.68 L523.94,213.92 L524.68,214.20 L525.42,214.50 L526.15,214.84 L526.89,215.20 L527.63,215.59 L528.37,216.00 L529.10,216.45 L529.84,216.92 L530.58,217.41 L531.31,217.94 L532.05,218.48 L532.79,219.06 L533.53,219.66 L534.26,220.28 L535.00,220.93 L535.74,221.60 L536.48,222.29 L537.21,223.01 L537.95,223.75 L538.69,224.50 L539.42,225.28 L540.16,226.08 L540.90,226.90 L541.64,227.74 L542.37,228.59 L543.11,229.46 L543.85,230.35 L544.59,231.25 L545.32,232.17 L546.06,233.11 L546.80,234.05 L547.53,235.01 L548.27,235.99 L549.01,236.97 L549.75,237.96 L550.48,238.97 L551.22,239.98 L551.96,241.00 L552.69,242.03 L553.43,243.06 L554.17,244.10 L554.91,245.15 L555.64,246.20 L556.38,247.25 L557.12,248.30 L557.86,249.36 L558.59,250.54 L559.33,252.25 L560.07,253.97 L560.80,255.67 L561.54,257.38 L562.28,259.07 L563.02,260.76 L563.75,262.45 L564.49,264.12 L565.23,265.78 L565.97,267.43 L566.70,269.06 L567.44,270.68 L568.18,272.28 L568.91,273.87 L569.65,275.44 L570.39,276.98 L571.13,278.50 L571.86,280.01 L572.60,281.48 L573.34,282.93 L574.07,284.36 L574.81,285.76 L575.55,287.13 L576.29,288.46 L577.02,289.77 L577.76,291.05 L578.50,292.29 L579.24,293.50 L579.97,294.68 L580.71,295.81 L581.45,296.92 L582.18,297.98 L582.92,299.00 L583.66,299.99 L584.40,300.94 L585.13,301.84 L585.87,302.70 L586.61,303.52 L587.35,304.30 L588.08,305.03 L588.82,305.72 L589.56,306.37 L590.29,306.97 L591.03,307.52 L591.77,308.03 L592.51,308.49 L593.24,308.90 L593.98,309.27 L594.72,309.58 L595.46,309.85 L596.19,310.08 L596.93,310.25 L597.67,310.37 L598.40,310.45 L599.14,310.48 L599.88,310.45 L600.62,310.35 L601.35,310.17 L602.09,309.93 L602.83,309.61 L603.56,309.23 L604.30,308.77 L605.04,308.25 L605.78,307.65 L606.51,306.99 L607.25,306.26 L607.99,305.47 L608.73,304.61 L609.46,303.68 L610.20,302.70 L610.94,301.65 L611.67,300.54 L612.41,299.37 L613.15,298.14 L613.89,296.85 L614.62,295.51 L615.36,294.12 L616.10,292.67 L616.84,291.17 L617.57,289.63 L618.31,288.04 L619.05,286.40 L619.78,284.72 L620.52,283.00 L621.26,281.24 L622.00,279.45 L622.73,277.62 L623.47,275.75 L624.21,273.86 L624.95,271.94 L625.68,269.99 L626.42,268.02 L627.16,266.03 L627.89,264.02 L628.63,261.99 L629.37,259.95 L630.11,257.90 L630.84,255.84 L631.58,253.77 L632.32,251.70 L633.05,249.56 L633.79,247.26 L634.53,244.97 L635.27,242.68 L636.00,240.41 L636.74,238.16 L637.48,235.92 L638.22,233.72 L638.95,231.54 L639.69,229.39 L640.43,227.29 L641.16,225.22 L641.90,223.20 L642.64,221.22 L643.38,219.30 L644.11,217.43 L644.85,215.62 L645.59,213.87 L646.33,212.19 L647.06,210.57 L647.80,209.03 L648.54,207.56 L649.27,206.16 L650.01,204.84 L650.75,203.61 L651.49,202.45 L652.22,201.38 L652.96,200.40 L653.70,199.51 L654.44,198.70 L655.17,197.99 L655.91,197.37 L656.65,196.85 L657.38,196.42 L658.12,196.08 L658.86,195.85 L659.60,195.71 L660.33,195.66 L661.07,195.80 L661.81,196.19 L662.54,196.83 L663.28,197.72 L664.02,198.86 L664.76,200.23 L665.49,201.84 L666.23,203.66 L666.97,205.71 L667.71,207.96 L668.44,210.41 L669.18,213.04 L669.92,215.85 L670.65,218.81 L671.39,221.92 L672.13,225.17 L672.87,228.53 L673.60,231.99 L674.34,235.53 L675.08,239.14 L675.82,242.81 L676.55,246.50 L677.29,250.22" fill="none" stroke="#EDB120" stroke-width="3.1" stroke-linejoin="round" stroke-linecap="butt"/><path d="M58.00,250.22 L58.74,261.00 L59.47,271.72 L60.21,282.35 L60.95,292.83 L61.69,303.12 L62.42,313.16 L63.16,322.92 L63.90,332.34 L64.64,341.38 L65.37,350.01 L66.11,358.18 L66.85,365.85 L67.58,372.99 L68.32,379.57 L69.06,385.56 L69.80,390.92 L70.53,395.64 L71.27,399.69 L72.01,403.06 L72.75,405.72 L73.48,407.67 L74.22,408.90 L74.96,409.40 L75.69,409.31 L76.43,408.91 L77.17,408.20 L77.91,407.19 L78.64,405.88 L79.38,404.26 L80.12,402.35 L80.85,400.15 L81.59,397.66 L82.33,394.88 L83.07,391.83 L83.80,388.50 L84.54,384.90 L85.28,381.05 L86.02,376.95 L86.75,372.60 L87.49,368.01 L88.23,363.20 L88.96,358.18 L89.70,352.94 L90.44,347.50 L91.18,341.88 L91.91,336.09 L92.65,330.12 L93.39,324.00 L94.13,317.75 L94.86,311.36 L95.60,304.85 L96.34,298.24 L97.07,291.53 L97.81,284.75 L98.55,277.90 L99.29,271.00 L100.02,264.05 L100.76,257.08 L101.50,250.12 L102.23,244.40 L102.97,238.70 L103.71,233.00 L104.45,227.33 L105.18,221.68 L105.92,216.07 L106.66,210.49 L107.40,204.97 L108.13,199.49 L108.87,194.08 L109.61,188.74 L110.34,183.46 L111.08,178.27 L111.82,173.16 L112.56,168.14 L113.29,163.22 L114.03,158.41 L114.77,153.70 L115.51,149.10 L116.24,144.63 L116.98,140.28 L117.72,136.06 L118.45,131.97 L119.19,128.03 L119.93,124.23 L120.67,120.58 L121.40,117.08 L122.14,113.74 L122.88,110.57 L123.62,107.55 L124.35,104.71 L125.09,102.04 L125.83,99.54 L126.56,97.23 L127.30,95.09 L128.04,93.14 L128.78,91.37 L129.51,89.79 L130.25,88.41 L130.99,87.21 L131.72,86.21 L132.46,85.40 L133.20,84.78 L133.94,84.36 L134.67,84.14 L135.41,84.11 L136.15,84.23 L136.89,84.49 L137.62,84.89 L138.36,85.42 L139.10,86.09 L139.83,86.90 L140.57,87.84 L141.31,88.92 L142.05,90.14 L142.78,91.48 L143.52,92.96 L144.26,94.57 L145.00,96.31 L145.73,98.17 L146.47,100.17 L147.21,102.28 L147.94,104.52 L148.68,106.89 L149.42,109.37 L150.16,111.97 L150.89,114.68 L151.63,117.51 L152.37,120.44 L153.11,123.49 L153.84,126.64 L154.58,129.89 L155.32,133.24 L156.05,136.70 L156.79,140.24 L157.53,143.88 L158.27,147.60 L159.00,151.41 L159.74,155.30 L160.48,159.28 L161.21,163.32 L161.95,167.44 L162.69,171.63 L163.43,175.88 L164.16,180.20 L164.90,184.57 L165.64,189.00 L166.38,193.48 L167.11,198.01 L167.85,202.58 L168.59,207.19 L169.32,211.83 L170.06,216.51 L170.80,221.22 L171.54,225.95 L172.27,230.69 L173.01,235.46 L173.75,240.24 L174.49,245.03 L175.22,249.82 L175.96,252.98 L176.70,255.98 L177.43,258.98 L178.17,261.97 L178.91,264.96 L179.65,267.92 L180.38,270.88 L181.12,273.81 L181.86,276.72 L182.60,279.60 L183.33,282.46 L184.07,285.29 L184.81,288.09 L185.54,290.85 L186.28,293.58 L187.02,296.26 L187.76,298.90 L188.49,301.50 L189.23,304.05 L189.97,306.55 L190.70,308.99 L191.44,311.39 L192.18,313.72 L192.92,316.00 L193.65,318.22 L194.39,320.37 L195.13,322.46 L195.87,324.48 L196.60,326.43 L197.34,328.32 L198.08,330.13 L198.81,331.86 L199.55,333.53 L200.29,335.11 L201.03,336.62 L201.76,338.04 L202.50,339.39 L203.24,340.65 L203.98,341.83 L204.71,342.92 L205.45,343.93 L206.19,344.85 L206.92,345.69 L207.66,346.43 L208.40,347.09 L209.14,347.66 L209.87,348.13 L210.61,348.52 L211.35,348.82 L212.09,349.02 L212.82,349.13 L213.56,349.16 L214.30,349.10 L215.03,348.98 L215.77,348.79 L216.51,348.53 L217.25,348.21 L217.98,347.82 L218.72,347.35 L219.46,346.83 L220.19,346.23 L220.93,345.57 L221.67,344.84 L222.41,344.04 L223.14,343.19 L223.88,342.26 L224.62,341.28 L225.36,340.23 L226.09,339.11 L226.83,337.94 L227.57,336.70 L228.30,335.41 L229.04,334.05 L229.78,332.64 L230.52,331.17 L231.25,329.65 L231.99,328.07 L232.73,326.43 L233.47,324.74 L234.20,323.01 L234.94,321.22 L235.68,319.38 L236.41,317.49 L237.15,315.56 L237.89,313.58 L238.63,311.56 L239.36,309.49 L240.10,307.39 L240.84,305.24 L241.58,303.06 L242.31,300.84 L243.05,298.58 L243.79,296.29 L244.52,293.97 L245.26,291.62 L246.00,289.24 L246.74,286.83 L247.47,284.40 L248.21,281.94 L248.95,279.47 L249.69,276.97 L250.42,274.45 L251.16,271.92 L251.90,269.37 L252.63,266.81 L253.37,264.23 L254.11,261.65 L254.85,259.06 L255.58,256.46 L256.32,253.86 L257.06,251.25 L257.79,249.12 L258.53,247.29 L259.27,245.47 L260.01,243.66 L260.74,241.85 L261.48,240.05 L262.22,238.26 L262.96,236.48 L263.69,234.72 L264.43,232.97 L265.17,231.24 L265.90,229.54 L266.64,227.85 L267.38,226.19 L268.12,224.55 L268.85,222.95 L269.59,221.37 L270.33,219.82 L271.07,218.30 L271.80,216.82 L272.54,215.38 L273.28,213.97 L274.01,212.60 L274.75,211.27 L275.49,209.98 L276.23,208.74 L276.96,207.54 L277.70,206.38 L278.44,205.27 L279.17,204.21 L279.91,203.20 L280.65,202.24 L281.39,201.33 L282.12,200.47 L282.86,199.67 L283.60,198.92 L284.34,198.22 L285.07,197.58 L285.81,197.00 L286.55,196.47 L287.28,196.01 L288.02,195.59 L288.76,195.24 L289.50,194.95 L290.23,194.71 L290.97,194.54 L291.71,194.42 L292.45,194.36 L293.18,194.37 L293.92,194.42 L294.66,194.51 L295.39,194.65 L296.13,194.84 L296.87,195.07 L297.61,195.35 L298.34,195.68 L299.08,196.05 L299.82,196.47 L300.56,196.93 L301.29,197.43 L302.03,197.98 L302.77,198.57 L303.50,199.21 L304.24,199.89 L304.98,200.61 L305.72,201.37 L306.45,202.17 L307.19,203.01 L307.93,203.89 L308.66,204.81 L309.40,205.77 L310.14,206.76 L310.88,207.79 L311.61,208.86 L312.35,209.96 L313.09,211.09 L313.83,212.26 L314.56,213.46 L315.30,214.69 L316.04,215.94 L316.77,217.23 L317.51,218.54 L318.25,219.88 L318.99,221.25 L319.72,222.64 L320.46,224.05 L321.20,225.49 L321.94,226.94 L322.67,228.42 L323.41,229.91 L324.15,231.42 L324.88,232.94 L325.62,234.48 L326.36,236.03 L327.10,237.60 L327.83,239.17 L328.57,240.76 L329.31,242.35 L330.05,243.95 L330.78,245.55 L331.52,247.16 L332.26,248.77 L332.99,250.35 L333.73,251.64 L334.47,252.94 L335.21,254.23 L335.94,255.52 L336.68,256.80 L337.42,258.07 L338.15,259.34 L338.89,260.59 L339.63,261.84 L340.37,263.07 L341.10,264.28 L341.84,265.48 L342.58,266.67 L343.32,267.83 L344.05,268.98 L344.79,270.10 L345.53,271.20 L346.26,272.28 L347.00,273.33 L347.74,274.36 L348.48,275.36 L349.21,276.33 L349.95,277.27 L350.69,278.18 L351.43,279.06 L352.16,279.91 L352.90,280.72 L353.64,281.50 L354.37,282.25 L355.11,282.96 L355.85,283.63 L356.59,284.27 L357.32,284.86 L358.06,285.42 L358.80,285.94 L359.54,286.41 L360.27,286.85 L361.01,287.25 L361.75,287.60 L362.48,287.91 L363.22,288.18 L363.96,288.41 L364.70,288.59 L365.43,288.74 L366.17,288.83 L366.91,288.89 L367.64,288.90 L368.38,288.86 L369.12,288.79 L369.86,288.67 L370.59,288.50 L371.33,288.29 L372.07,288.04 L372.81,287.74 L373.54,287.40 L374.28,287.02 L375.02,286.60 L375.75,286.13 L376.49,285.63 L377.23,285.08 L377.97,284.49 L378.70,283.87 L379.44,283.20 L380.18,282.50 L380.92,281.76 L381.65,280.99 L382.39,280.18 L383.13,279.33 L383.86,278.46 L384.60,277.55 L385.34,276.60 L386.08,275.63 L386.81,274.63 L387.55,273.60 L388.29,272.55 L389.03,271.47 L389.76,270.36 L390.50,269.23 L391.24,268.08 L391.97,266.91 L392.71,265.73 L393.45,264.52 L394.19,263.29 L394.92,262.06 L395.66,260.80 L396.40,259.54 L397.13,258.27 L397.87,256.98 L398.61,255.69 L399.35,254.39 L400.08,253.09 L400.82,251.78 L401.56,250.48 L402.30,248.94 L403.03,247.36 L403.77,245.77 L404.51,244.19 L405.24,242.62 L405.98,241.05 L406.72,239.48 L407.46,237.93 L408.19,236.39 L408.93,234.85 L409.67,233.33 L410.41,231.83 L411.14,230.33 L411.88,228.86 L412.62,227.40 L413.35,225.96 L414.09,224.54 L414.83,223.14 L415.57,221.76 L416.30,220.41 L417.04,219.08 L417.78,217.77 L418.52,216.49 L419.25,215.24 L419.99,214.02 L420.73,212.82 L421.46,211.66 L422.20,210.52 L422.94,209.42 L423.68,208.35 L424.41,207.32 L425.15,206.32 L425.89,205.36 L426.62,204.43 L427.36,203.54 L428.10,202.68 L428.84,201.87 L429.57,201.09 L430.31,200.36 L431.05,199.66 L431.79,199.01 L432.52,198.39 L433.26,197.82 L434.00,197.29 L434.73,196.81 L435.47,196.36 L436.21,195.96 L436.95,195.61 L437.68,195.30 L438.42,195.03 L439.16,194.81 L439.90,194.63 L440.63,194.49 L441.37,194.41 L442.11,194.36 L442.84,194.37 L443.58,194.44 L444.32,194.57 L445.06,194.76 L445.79,195.02 L446.53,195.34 L447.27,195.72 L448.01,196.17 L448.74,196.68 L449.48,197.25 L450.22,197.88 L450.95,198.56 L451.69,199.31 L452.43,200.12 L453.17,200.98 L453.90,201.90 L454.64,202.88 L455.38,203.91 L456.11,204.99 L456.85,206.13 L457.59,207.31 L458.33,208.55 L459.06,209.83 L459.80,211.16 L460.54,212.53 L461.28,213.94 L462.01,215.40 L462.75,216.90 L463.49,218.43 L464.22,220.00 L464.96,221.61 L465.70,223.25 L466.44,224.92 L467.17,226.62 L467.91,228.34 L468.65,230.09 L469.39,231.87 L470.12,233.66 L470.86,235.47 L471.60,237.30 L472.33,239.15 L473.07,241.01 L473.81,242.87 L474.55,244.75 L475.28,246.63 L476.02,248.52 L476.76,250.47 L477.50,253.00 L478.23,255.52 L478.97,258.04 L479.71,260.56 L480.44,263.07 L481.18,265.57 L481.92,268.06 L482.66,270.54 L483.39,273.00 L484.13,275.45 L484.87,277.89 L485.60,280.30 L486.34,282.70 L487.08,285.07 L487.82,287.42 L488.55,289.75 L489.29,292.05 L490.03,294.32 L490.77,296.57 L491.50,298.78 L492.24,300.96 L492.98,303.11 L493.71,305.23 L494.45,307.30 L495.19,309.34 L495.93,311.35 L496.66,313.31 L497.40,315.23 L498.14,317.10 L498.88,318.94 L499.61,320.72 L500.35,322.47 L501.09,324.16 L501.82,325.81 L502.56,327.40 L503.30,328.95 L504.04,330.44 L504.77,331.88 L505.51,333.27 L506.25,334.60 L506.99,335.87 L507.72,337.10 L508.46,338.26 L509.20,339.36 L509.93,340.41 L510.67,341.40 L511.41,342.33 L512.15,343.19 L512.88,344.00 L513.62,344.74 L514.36,345.42 L515.10,346.04 L515.83,346.60 L516.57,347.09 L517.31,347.52 L518.04,347.89 L518.78,348.19 L519.52,348.43 L520.26,348.60 L520.99,348.71 L521.73,348.75 L522.47,348.72 L523.20,348.58 L523.94,348.35 L524.68,348.02 L525.42,347.60 L526.15,347.07 L526.89,346.45 L527.63,345.74 L528.37,344.92 L529.10,344.02 L529.84,343.01 L530.58,341.92 L531.31,340.73 L532.05,339.46 L532.79,338.09 L533.53,336.64 L534.26,335.10 L535.00,333.47 L535.74,331.76 L536.48,329.97 L537.21,328.10 L537.95,326.15 L538.69,324.13 L539.42,322.03 L540.16,319.86 L540.90,317.62 L541.64,315.32 L542.37,312.94 L543.11,310.51 L543.85,308.01 L544.59,305.46 L545.32,302.85 L546.06,300.19 L546.80,297.48 L547.53,294.72 L548.27,291.92 L549.01,289.07 L549.75,286.19 L550.48,283.27 L551.22,280.32 L551.96,277.34 L552.69,274.33 L553.43,271.29 L554.17,268.24 L554.91,265.16 L555.64,262.08 L556.38,258.98 L557.12,255.87 L557.86,252.75 L558.59,249.36 L559.33,244.76 L560.07,240.16 L560.80,235.58 L561.54,231.00 L562.28,226.44 L563.02,221.90 L563.75,217.38 L564.49,212.89 L565.23,208.42 L565.97,203.99 L566.70,199.59 L567.44,195.23 L568.18,190.92 L568.91,186.65 L569.65,182.43 L570.39,178.26 L571.13,174.15 L571.86,170.10 L572.60,166.11 L573.34,162.18 L574.07,158.32 L574.81,154.53 L575.55,150.82 L576.29,147.19 L577.02,143.63 L577.76,140.16 L578.50,136.77 L579.24,133.47 L579.97,130.26 L580.71,127.14 L581.45,124.12 L582.18,121.19 L582.92,118.37 L583.66,115.65 L584.40,113.03 L585.13,110.51 L585.87,108.11 L586.61,105.82 L587.35,103.63 L588.08,101.57 L588.82,99.61 L589.56,97.77 L590.29,96.06 L591.03,94.46 L591.77,92.98 L592.51,91.62 L593.24,90.38 L593.98,89.27 L594.72,88.29 L595.46,87.43 L596.19,86.69 L596.93,86.08 L597.67,85.60 L598.40,85.25 L599.14,85.02 L599.88,84.92 L600.62,84.97 L601.35,85.23 L602.09,85.69 L602.83,86.35 L603.56,87.22 L604.30,88.30 L605.04,89.57 L605.78,91.05 L606.51,92.72 L607.25,94.60 L607.99,96.66 L608.73,98.92 L609.46,101.37 L610.20,104.00 L610.94,106.82 L611.67,109.81 L612.41,112.98 L613.15,116.32 L613.89,119.83 L614.62,123.50 L615.36,127.33 L616.10,131.32 L616.84,135.45 L617.57,139.72 L618.31,144.14 L619.05,148.68 L619.78,153.36 L620.52,158.15 L621.26,163.06 L622.00,168.08 L622.73,173.20 L623.47,178.41 L624.21,183.72 L624.95,189.11 L625.68,194.57 L626.42,200.11 L627.16,205.70 L627.89,211.36 L628.63,217.06 L629.37,222.80 L630.11,228.58 L630.84,234.38 L631.58,240.21 L632.32,246.04 L633.05,252.11 L633.79,258.74 L634.53,265.35 L635.27,271.93 L636.00,278.47 L636.74,284.97 L637.48,291.40 L638.22,297.76 L638.95,304.03 L639.69,310.21 L640.43,316.29 L641.16,322.24 L641.90,328.07 L642.64,333.75 L643.38,339.29 L644.11,344.68 L644.85,349.89 L645.59,354.92 L646.33,359.77 L647.06,364.43 L647.80,368.88 L648.54,373.12 L649.27,377.14 L650.01,380.94 L650.75,384.50 L651.49,387.82 L652.22,390.90 L652.96,393.73 L653.70,396.31 L654.44,398.62 L655.17,400.67 L655.91,402.45 L656.65,403.96 L657.38,405.20 L658.12,406.16 L658.86,406.85 L659.60,407.25 L660.33,407.38 L661.07,406.98 L661.81,405.85 L662.54,404.00 L663.28,401.44 L664.02,398.17 L664.76,394.22 L665.49,389.60 L666.23,384.33 L666.97,378.44 L667.71,371.95 L668.44,364.90 L669.18,357.31 L669.92,349.23 L670.65,340.69 L671.39,331.73 L672.13,322.39 L672.87,312.71 L673.60,302.75 L674.34,292.54 L675.08,282.13 L675.82,271.58 L676.55,260.92 L677.29,250.22" fill="none" stroke="#7E2F8E" stroke-width="3.1" stroke-linejoin="round" stroke-linecap="butt"/><path d="M58.00,250.22 L58.74,248.84 L59.47,247.47 L60.21,246.11 L60.95,244.77 L61.69,243.46 L62.42,242.17 L63.16,240.92 L63.90,239.72 L64.64,238.56 L65.37,237.46 L66.11,236.41 L66.85,235.43 L67.58,234.52 L68.32,233.68 L69.06,232.91 L69.80,232.23 L70.53,231.62 L71.27,231.11 L72.01,230.68 L72.75,230.33 L73.48,230.09 L74.22,229.93 L74.96,229.86 L75.69,229.88 L76.43,229.93 L77.17,230.02 L77.91,230.15 L78.64,230.32 L79.38,230.52 L80.12,230.77 L80.85,231.05 L81.59,231.37 L82.33,231.72 L83.07,232.11 L83.80,232.54 L84.54,233.00 L85.28,233.49 L86.02,234.01 L86.75,234.57 L87.49,235.16 L88.23,235.77 L88.96,236.41 L89.70,237.08 L90.44,237.78 L91.18,238.50 L91.91,239.24 L92.65,240.00 L93.39,240.78 L94.13,241.58 L94.86,242.40 L95.60,243.23 L96.34,244.08 L97.07,244.94 L97.81,245.80 L98.55,246.68 L99.29,247.56 L100.02,248.45 L100.76,249.34 L101.50,250.23 L102.23,251.00 L102.97,251.76 L103.71,252.52 L104.45,253.28 L105.18,254.04 L105.92,254.79 L106.66,255.54 L107.40,256.28 L108.13,257.01 L108.87,257.74 L109.61,258.45 L110.34,259.16 L111.08,259.86 L111.82,260.55 L112.56,261.22 L113.29,261.89 L114.03,262.54 L114.77,263.17 L115.51,263.79 L116.24,264.40 L116.98,264.99 L117.72,265.56 L118.45,266.12 L119.19,266.66 L119.93,267.18 L120.67,267.68 L121.40,268.16 L122.14,268.62 L122.88,269.07 L123.62,269.49 L124.35,269.88 L125.09,270.26 L125.83,270.61 L126.56,270.94 L127.30,271.25 L128.04,271.53 L128.78,271.79 L129.51,272.03 L130.25,272.24 L130.99,272.43 L131.72,272.59 L132.46,272.72 L133.20,272.83 L133.94,272.92 L134.67,272.98 L135.41,273.01 L136.15,273.02 L136.89,273.01 L137.62,272.97 L138.36,272.92 L139.10,272.85 L139.83,272.76 L140.57,272.64 L141.31,272.51 L142.05,272.36 L142.78,272.19 L143.52,272.00 L144.26,271.79 L145.00,271.57 L145.73,271.32 L146.47,271.06 L147.21,270.78 L147.94,270.48 L148.68,270.16 L149.42,269.82 L150.16,269.47 L150.89,269.10 L151.63,268.72 L152.37,268.32 L153.11,267.90 L153.84,267.47 L154.58,267.02 L155.32,266.56 L156.05,266.08 L156.79,265.59 L157.53,265.09 L158.27,264.57 L159.00,264.04 L159.74,263.50 L160.48,262.95 L161.21,262.39 L161.95,261.81 L162.69,261.23 L163.43,260.64 L164.16,260.03 L164.90,259.42 L165.64,258.80 L166.38,258.18 L167.11,257.54 L167.85,256.90 L168.59,256.26 L169.32,255.61 L170.06,254.95 L170.80,254.29 L171.54,253.63 L172.27,252.96 L173.01,252.29 L173.75,251.62 L174.49,250.95 L175.22,250.28 L175.96,249.87 L176.70,249.48 L177.43,249.10 L178.17,248.71 L178.91,248.33 L179.65,247.95 L180.38,247.57 L181.12,247.20 L181.86,246.82 L182.60,246.45 L183.33,246.08 L184.07,245.71 L184.81,245.35 L185.54,244.99 L186.28,244.64 L187.02,244.29 L187.76,243.94 L188.49,243.60 L189.23,243.27 L189.97,242.94 L190.70,242.61 L191.44,242.29 L192.18,241.98 L192.92,241.67 L193.65,241.37 L194.39,241.08 L195.13,240.80 L195.87,240.52 L196.60,240.25 L197.34,239.98 L198.08,239.73 L198.81,239.48 L199.55,239.24 L200.29,239.01 L201.03,238.79 L201.76,238.58 L202.50,238.37 L203.24,238.18 L203.98,237.99 L204.71,237.82 L205.45,237.65 L206.19,237.49 L206.92,237.35 L207.66,237.21 L208.40,237.08 L209.14,236.97 L209.87,236.86 L210.61,236.77 L211.35,236.68 L212.09,236.61 L212.82,236.54 L213.56,236.49 L214.30,236.44 L215.03,236.41 L215.77,236.39 L216.51,236.38 L217.25,236.38 L217.98,236.38 L218.72,236.40 L219.46,236.42 L220.19,236.45 L220.93,236.48 L221.67,236.53 L222.41,236.57 L223.14,236.63 L223.88,236.69 L224.62,236.76 L225.36,236.84 L226.09,236.93 L226.83,237.02 L227.57,237.11 L228.30,237.22 L229.04,237.33 L229.78,237.45 L230.52,237.57 L231.25,237.70 L231.99,237.84 L232.73,237.98 L233.47,238.13 L234.20,238.29 L234.94,238.45 L235.68,238.62 L236.41,238.79 L237.15,238.97 L237.89,239.16 L238.63,239.35 L239.36,239.55 L240.10,239.75 L240.84,239.96 L241.58,240.17 L242.31,240.39 L243.05,240.62 L243.79,240.84 L244.52,241.08 L245.26,241.32 L246.00,241.56 L246.74,241.81 L247.47,242.06 L248.21,242.31 L248.95,242.57 L249.69,242.84 L250.42,243.10 L251.16,243.37 L251.90,243.65 L252.63,243.93 L253.37,244.21 L254.11,244.49 L254.85,244.78 L255.58,245.07 L256.32,245.36 L257.06,245.66 L257.79,245.95 L258.53,246.25 L259.27,246.56 L260.01,246.86 L260.74,247.17 L261.48,247.47 L262.22,247.78 L262.96,248.09 L263.69,248.40 L264.43,248.71 L265.17,249.02 L265.90,249.34 L266.64,249.65 L267.38,249.97 L268.12,250.26 L268.85,250.47 L269.59,250.69 L270.33,250.90 L271.07,251.11 L271.80,251.32 L272.54,251.53 L273.28,251.74 L274.01,251.95 L274.75,252.16 L275.49,252.36 L276.23,252.57 L276.96,252.77 L277.70,252.97 L278.44,253.17 L279.17,253.37 L279.91,253.57 L280.65,253.76 L281.39,253.95 L282.12,254.14 L282.86,254.32 L283.60,254.50 L284.34,254.68 L285.07,254.86 L285.81,255.03 L286.55,255.20 L287.28,255.37 L288.02,255.53 L288.76,255.69 L289.50,255.85 L290.23,256.00 L290.97,256.15 L291.71,256.29 L292.45,256.43 L293.18,256.57 L293.92,256.70 L294.66,256.83 L295.39,256.95 L296.13,257.07 L296.87,257.18 L297.61,257.29 L298.34,257.39 L299.08,257.49 L299.82,257.58 L300.56,257.67 L301.29,257.75 L302.03,257.83 L302.77,257.91 L303.50,257.97 L304.24,258.04 L304.98,258.09 L305.72,258.14 L306.45,258.19 L307.19,258.23 L307.93,258.27 L308.66,258.30 L309.40,258.32 L310.14,258.34 L310.88,258.35 L311.61,258.36 L312.35,258.36 L313.09,258.36 L313.83,258.35 L314.56,258.34 L315.30,258.33 L316.04,258.31 L316.77,258.28 L317.51,258.25 L318.25,258.22 L318.99,258.19 L319.72,258.14 L320.46,258.10 L321.20,258.05 L321.94,258.00 L322.67,257.94 L323.41,257.88 L324.15,257.81 L324.88,257.74 L325.62,257.67 L326.36,257.59 L327.10,257.51 L327.83,257.43 L328.57,257.34 L329.31,257.24 L330.05,257.15 L330.78,257.05 L331.52,256.94 L332.26,256.84 L332.99,256.73 L333.73,256.61 L334.47,256.49 L335.21,256.37 L335.94,256.25 L336.68,256.12 L337.42,255.99 L338.15,255.86 L338.89,255.72 L339.63,255.58 L340.37,255.44 L341.10,255.30 L341.84,255.15 L342.58,255.00 L343.32,254.85 L344.05,254.69 L344.79,254.53 L345.53,254.38 L346.26,254.21 L347.00,254.05 L347.74,253.88 L348.48,253.72 L349.21,253.55 L349.95,253.38 L350.69,253.20 L351.43,253.03 L352.16,252.85 L352.90,252.67 L353.64,252.50 L354.37,252.32 L355.11,252.13 L355.85,251.95 L356.59,251.77 L357.32,251.59 L358.06,251.40 L358.80,251.22 L359.54,251.03 L360.27,250.84 L361.01,250.66 L361.75,250.47 L362.48,250.28 L363.22,250.10 L363.96,249.92 L364.70,249.74 L365.43,249.56 L366.17,249.38 L366.91,249.20 L367.64,249.02 L368.38,248.84 L369.12,248.66 L369.86,248.48 L370.59,248.30 L371.33,248.13 L372.07,247.95 L372.81,247.78 L373.54,247.60 L374.28,247.43 L375.02,247.26 L375.75,247.09 L376.49,246.92 L377.23,246.75 L377.97,246.58 L378.70,246.41 L379.44,246.25 L380.18,246.09 L380.92,245.92 L381.65,245.76 L382.39,245.61 L383.13,245.45 L383.86,245.29 L384.60,245.14 L385.34,244.99 L386.08,244.84 L386.81,244.69 L387.55,244.55 L388.29,244.41 L389.03,244.27 L389.76,244.13 L390.50,243.99 L391.24,243.86 L391.97,243.73 L392.71,243.60 L393.45,243.47 L394.19,243.35 L394.92,243.22 L395.66,243.10 L396.40,242.99 L397.13,242.87 L397.87,242.76 L398.61,242.66 L399.35,242.55 L400.08,242.45 L400.82,242.35 L401.56,242.25 L402.30,242.16 L403.03,242.07 L403.77,241.98 L404.51,241.90 L405.24,241.81 L405.98,241.74 L406.72,241.66 L407.46,241.59 L408.19,241.52 L408.93,241.46 L409.67,241.39 L410.41,241.33 L411.14,241.28 L411.88,241.23 L412.62,241.18 L413.35,241.13 L414.09,241.09 L414.83,241.05 L415.57,241.02 L416.30,240.99 L417.04,240.96 L417.78,240.93 L418.52,240.91 L419.25,240.89 L419.99,240.88 L420.73,240.87 L421.46,240.86 L422.20,240.86 L422.94,240.86 L423.68,240.86 L424.41,240.87 L425.15,240.89 L425.89,240.92 L426.62,240.95 L427.36,240.99 L428.10,241.03 L428.84,241.08 L429.57,241.14 L430.31,241.20 L431.05,241.27 L431.79,241.34 L432.52,241.42 L433.26,241.51 L434.00,241.60 L434.73,241.70 L435.47,241.81 L436.21,241.92 L436.95,242.03 L437.68,242.15 L438.42,242.28 L439.16,242.41 L439.90,242.55 L440.63,242.69 L441.37,242.84 L442.11,243.00 L442.84,243.15 L443.58,243.32 L444.32,243.49 L445.06,243.66 L445.79,243.84 L446.53,244.02 L447.27,244.20 L448.01,244.39 L448.74,244.59 L449.48,244.78 L450.22,244.98 L450.95,245.19 L451.69,245.40 L452.43,245.61 L453.17,245.82 L453.90,246.04 L454.64,246.26 L455.38,246.49 L456.11,246.71 L456.85,246.94 L457.59,247.17 L458.33,247.40 L459.06,247.64 L459.80,247.87 L460.54,248.11 L461.28,248.35 L462.01,248.59 L462.75,248.83 L463.49,249.08 L464.22,249.32 L464.96,249.56 L465.70,249.81 L466.44,250.05 L467.17,250.32 L467.91,250.62 L468.65,250.93 L469.39,251.23 L470.12,251.54 L470.86,251.84 L471.60,252.14 L472.33,252.45 L473.07,252.75 L473.81,253.05 L474.55,253.35 L475.28,253.64 L476.02,253.94 L476.76,254.23 L477.50,254.52 L478.23,254.81 L478.97,255.10 L479.71,255.39 L480.44,255.67 L481.18,255.95 L481.92,256.23 L482.66,256.51 L483.39,256.78 L484.13,257.05 L484.87,257.32 L485.60,257.58 L486.34,257.84 L487.08,258.10 L487.82,258.35 L488.55,258.60 L489.29,258.84 L490.03,259.08 L490.77,259.32 L491.50,259.55 L492.24,259.78 L492.98,260.01 L493.71,260.23 L494.45,260.44 L495.19,260.65 L495.93,260.86 L496.66,261.06 L497.40,261.25 L498.14,261.45 L498.88,261.63 L499.61,261.81 L500.35,261.99 L501.09,262.16 L501.82,262.32 L502.56,262.48 L503.30,262.63 L504.04,262.78 L504.77,262.92 L505.51,263.06 L506.25,263.19 L506.99,263.31 L507.72,263.43 L508.46,263.54 L509.20,263.64 L509.93,263.74 L510.67,263.84 L511.41,263.92 L512.15,264.00 L512.88,264.08 L513.62,264.15 L514.36,264.21 L515.10,264.26 L515.83,264.31 L516.57,264.35 L517.31,264.39 L518.04,264.42 L518.78,264.44 L519.52,264.46 L520.26,264.47 L520.99,264.47 L521.73,264.46 L522.47,264.44 L523.20,264.41 L523.94,264.36 L524.68,264.30 L525.42,264.22 L526.15,264.13 L526.89,264.03 L527.63,263.92 L528.37,263.79 L529.10,263.65 L529.84,263.50 L530.58,263.33 L531.31,263.15 L532.05,262.96 L532.79,262.76 L533.53,262.54 L534.26,262.31 L535.00,262.08 L535.74,261.83 L536.48,261.57 L537.21,261.29 L537.95,261.01 L538.69,260.72 L539.42,260.42 L540.16,260.10 L540.90,259.78 L541.64,259.45 L542.37,259.11 L543.11,258.76 L543.85,258.41 L544.59,258.04 L545.32,257.67 L546.06,257.29 L546.80,256.91 L547.53,256.52 L548.27,256.12 L549.01,255.71 L549.75,255.31 L550.48,254.89 L551.22,254.47 L551.96,254.05 L552.69,253.63 L553.43,253.20 L554.17,252.76 L554.91,252.33 L555.64,251.89 L556.38,251.46 L557.12,251.02 L557.86,250.58 L558.59,250.09 L559.33,249.37 L560.07,248.66 L560.80,247.95 L561.54,247.24 L562.28,246.53 L563.02,245.83 L563.75,245.12 L564.49,244.43 L565.23,243.73 L565.97,243.05 L566.70,242.36 L567.44,241.69 L568.18,241.02 L568.91,240.36 L569.65,239.70 L570.39,239.05 L571.13,238.42 L571.86,237.79 L572.60,237.17 L573.34,236.56 L574.07,235.96 L574.81,235.37 L575.55,234.80 L576.29,234.23 L577.02,233.68 L577.76,233.14 L578.50,232.62 L579.24,232.10 L579.97,231.60 L580.71,231.12 L581.45,230.65 L582.18,230.20 L582.92,229.76 L583.66,229.34 L584.40,228.93 L585.13,228.54 L585.87,228.17 L586.61,227.81 L587.35,227.47 L588.08,227.15 L588.82,226.85 L589.56,226.56 L590.29,226.30 L591.03,226.05 L591.77,225.82 L592.51,225.61 L593.24,225.42 L593.98,225.25 L594.72,225.09 L595.46,224.96 L596.19,224.84 L596.93,224.75 L597.67,224.68 L598.40,224.62 L599.14,224.59 L599.88,224.57 L600.62,224.58 L601.35,224.62 L602.09,224.69 L602.83,224.79 L603.56,224.93 L604.30,225.09 L605.04,225.29 L605.78,225.52 L606.51,225.78 L607.25,226.07 L607.99,226.39 L608.73,226.74 L609.46,227.12 L610.20,227.53 L610.94,227.97 L611.67,228.43 L612.41,228.92 L613.15,229.44 L613.89,229.99 L614.62,230.56 L615.36,231.15 L616.10,231.77 L616.84,232.41 L617.57,233.07 L618.31,233.76 L619.05,234.46 L619.78,235.19 L620.52,235.93 L621.26,236.69 L622.00,237.47 L622.73,238.27 L623.47,239.08 L624.21,239.90 L624.95,240.74 L625.68,241.59 L626.42,242.44 L627.16,243.31 L627.89,244.19 L628.63,245.07 L629.37,245.97 L630.11,246.86 L630.84,247.76 L631.58,248.67 L632.32,249.57 L633.05,250.49 L633.79,251.43 L634.53,252.38 L635.27,253.31 L636.00,254.25 L636.74,255.17 L637.48,256.09 L638.22,256.99 L638.95,257.89 L639.69,258.77 L640.43,259.63 L641.16,260.48 L641.90,261.31 L642.64,262.12 L643.38,262.91 L644.11,263.68 L644.85,264.42 L645.59,265.14 L646.33,265.83 L647.06,266.49 L647.80,267.13 L648.54,267.73 L649.27,268.30 L650.01,268.85 L650.75,269.35 L651.49,269.83 L652.22,270.27 L652.96,270.67 L653.70,271.04 L654.44,271.36 L655.17,271.66 L655.91,271.91 L656.65,272.13 L657.38,272.30 L658.12,272.44 L658.86,272.54 L659.60,272.60 L660.33,272.61 L661.07,272.56 L661.81,272.40 L662.54,272.13 L663.28,271.77 L664.02,271.30 L664.76,270.74 L665.49,270.08 L666.23,269.33 L666.97,268.49 L667.71,267.56 L668.44,266.56 L669.18,265.48 L669.92,264.33 L670.65,263.11 L671.39,261.83 L672.13,260.50 L672.87,259.12 L673.60,257.70 L674.34,256.25 L675.08,254.77 L675.82,253.26 L676.55,251.75 L677.29,250.22" fill="none" stroke="#77AC30" stroke-width="3.1" stroke-linejoin="round" stroke-linecap="butt"/><path d="M58.00,250.22 L58.74,245.84 L59.47,241.48 L60.21,237.15 L60.95,232.89 L61.69,228.71 L62.42,224.62 L63.16,220.66 L63.90,216.83 L64.64,213.15 L65.37,209.64 L66.11,206.32 L66.85,203.20 L67.58,200.30 L68.32,197.62 L69.06,195.19 L69.80,193.00 L70.53,191.09 L71.27,189.44 L72.01,188.07 L72.75,186.99 L73.48,186.19 L74.22,185.69 L74.96,185.49 L75.69,185.52 L76.43,185.69 L77.17,185.98 L77.91,186.39 L78.64,186.92 L79.38,187.58 L80.12,188.36 L80.85,189.25 L81.59,190.27 L82.33,191.39 L83.07,192.64 L83.80,193.99 L84.54,195.45 L85.28,197.02 L86.02,198.69 L86.75,200.45 L87.49,202.32 L88.23,204.28 L88.96,206.32 L89.70,208.45 L90.44,210.66 L91.18,212.95 L91.91,215.30 L92.65,217.73 L93.39,220.22 L94.13,222.76 L94.86,225.36 L95.60,228.00 L96.34,230.69 L97.07,233.42 L97.81,236.18 L98.55,238.96 L99.29,241.77 L100.02,244.60 L100.76,247.43 L101.50,250.26 L102.23,252.58 L102.97,254.90 L103.71,257.21 L104.45,259.52 L105.18,261.81 L105.92,264.09 L106.66,266.36 L107.40,268.60 L108.13,270.83 L108.87,273.03 L109.61,275.21 L110.34,277.36 L111.08,279.48 L111.82,281.57 L112.56,283.62 L113.29,285.63 L114.03,287.61 L114.77,289.54 L115.51,291.43 L116.24,293.27 L116.98,295.06 L117.72,296.80 L118.45,298.49 L119.19,300.13 L119.93,301.71 L120.67,303.23 L121.40,304.69 L122.14,306.09 L122.88,307.43 L123.62,308.70 L124.35,309.91 L125.09,311.05 L125.83,312.13 L126.56,313.13 L127.30,314.06 L128.04,314.92 L128.78,315.71 L129.51,316.42 L130.25,317.06 L130.99,317.63 L131.72,318.12 L132.46,318.53 L133.20,318.87 L133.94,319.12 L134.67,319.31 L135.41,319.41 L136.15,319.43 L136.89,319.39 L137.62,319.29 L138.36,319.13 L139.10,318.91 L139.83,318.63 L140.57,318.29 L141.31,317.89 L142.05,317.44 L142.78,316.92 L143.52,316.34 L144.26,315.71 L145.00,315.02 L145.73,314.28 L146.47,313.48 L147.21,312.62 L147.94,311.71 L148.68,310.75 L149.42,309.73 L150.16,308.66 L150.89,307.54 L151.63,306.37 L152.37,305.16 L153.11,303.89 L153.84,302.58 L154.58,301.22 L155.32,299.82 L156.05,298.37 L156.79,296.89 L157.53,295.36 L158.27,293.79 L159.00,292.19 L159.74,290.54 L160.48,288.87 L161.21,287.16 L161.95,285.41 L162.69,283.64 L163.43,281.84 L164.16,280.01 L164.90,278.15 L165.64,276.27 L166.38,274.37 L167.11,272.45 L167.85,270.51 L168.59,268.55 L169.32,266.57 L170.06,264.58 L170.80,262.57 L171.54,260.56 L172.27,258.54 L173.01,256.51 L173.75,254.47 L174.49,252.43 L175.22,250.39 L175.96,249.06 L176.70,247.80 L177.43,246.54 L178.17,245.29 L178.91,244.03 L179.65,242.79 L180.38,241.55 L181.12,240.32 L181.86,239.10 L182.60,237.89 L183.33,236.69 L184.07,235.50 L184.81,234.32 L185.54,233.17 L186.28,232.02 L187.02,230.89 L187.76,229.79 L188.49,228.70 L189.23,227.63 L189.97,226.58 L190.70,225.55 L191.44,224.55 L192.18,223.57 L192.92,222.61 L193.65,221.68 L194.39,220.77 L195.13,219.90 L195.87,219.05 L196.60,218.23 L197.34,217.44 L198.08,216.68 L198.81,215.95 L199.55,215.25 L200.29,214.59 L201.03,213.95 L201.76,213.36 L202.50,212.79 L203.24,212.26 L203.98,211.77 L204.71,211.31 L205.45,210.88 L206.19,210.50 L206.92,210.15 L207.66,209.83 L208.40,209.56 L209.14,209.32 L209.87,209.12 L210.61,208.96 L211.35,208.83 L212.09,208.75 L212.82,208.70 L213.56,208.69 L214.30,208.72 L215.03,208.77 L215.77,208.85 L216.51,208.97 L217.25,209.12 L217.98,209.29 L218.72,209.50 L219.46,209.74 L220.19,210.01 L220.93,210.30 L221.67,210.63 L222.41,210.99 L223.14,211.37 L223.88,211.79 L224.62,212.23 L225.36,212.70 L226.09,213.20 L226.83,213.73 L227.57,214.28 L228.30,214.86 L229.04,215.47 L229.78,216.10 L230.52,216.76 L231.25,217.44 L231.99,218.14 L232.73,218.87 L233.47,219.63 L234.20,220.41 L234.94,221.20 L235.68,222.02 L236.41,222.86 L237.15,223.73 L237.89,224.61 L238.63,225.51 L239.36,226.43 L240.10,227.36 L240.84,228.31 L241.58,229.28 L242.31,230.27 L243.05,231.27 L243.79,232.28 L244.52,233.31 L245.26,234.35 L246.00,235.40 L246.74,236.46 L247.47,237.53 L248.21,238.62 L248.95,239.71 L249.69,240.80 L250.42,241.91 L251.16,243.02 L251.90,244.14 L252.63,245.26 L253.37,246.38 L254.11,247.51 L254.85,248.64 L255.58,249.77 L256.32,250.63 L257.06,251.30 L257.79,251.97 L258.53,252.64 L259.27,253.31 L260.01,253.97 L260.74,254.64 L261.48,255.29 L262.22,255.95 L262.96,256.60 L263.69,257.24 L264.43,257.87 L265.17,258.50 L265.90,259.13 L266.64,259.74 L267.38,260.34 L268.12,260.94 L268.85,261.53 L269.59,262.10 L270.33,262.67 L271.07,263.22 L271.80,263.77 L272.54,264.30 L273.28,264.82 L274.01,265.32 L274.75,265.81 L275.49,266.29 L276.23,266.75 L276.96,267.20 L277.70,267.64 L278.44,268.05 L279.17,268.45 L279.91,268.84 L280.65,269.21 L281.39,269.56 L282.12,269.89 L282.86,270.21 L283.60,270.51 L284.34,270.79 L285.07,271.05 L285.81,271.29 L286.55,271.52 L287.28,271.72 L288.02,271.91 L288.76,272.08 L289.50,272.22 L290.23,272.35 L290.97,272.46 L291.71,272.55 L292.45,272.61 L293.18,272.66 L293.92,272.69 L294.66,272.69 L295.39,272.68 L296.13,272.64 L296.87,272.58 L297.61,272.50 L298.34,272.39 L299.08,272.26 L299.82,272.11 L300.56,271.94 L301.29,271.74 L302.03,271.53 L302.77,271.29 L303.50,271.03 L304.24,270.75 L304.98,270.44 L305.72,270.12 L306.45,269.78 L307.19,269.41 L307.93,269.03 L308.66,268.63 L309.40,268.21 L310.14,267.77 L310.88,267.32 L311.61,266.84 L312.35,266.35 L313.09,265.84 L313.83,265.32 L314.56,264.78 L315.30,264.23 L316.04,263.66 L316.77,263.08 L317.51,262.48 L318.25,261.88 L318.99,261.26 L319.72,260.63 L320.46,259.99 L321.20,259.34 L321.94,258.68 L322.67,258.01 L323.41,257.33 L324.15,256.65 L324.88,255.96 L325.62,255.27 L326.36,254.56 L327.10,253.86 L327.83,253.15 L328.57,252.44 L329.31,251.72 L330.05,251.01 L330.78,250.29 L331.52,249.73 L332.26,249.19 L332.99,248.65 L333.73,248.11 L334.47,247.58 L335.21,247.05 L335.94,246.52 L336.68,245.99 L337.42,245.47 L338.15,244.95 L338.89,244.44 L339.63,243.93 L340.37,243.43 L341.10,242.94 L341.84,242.45 L342.58,241.98 L343.32,241.51 L344.05,241.04 L344.79,240.59 L345.53,240.15 L346.26,239.72 L347.00,239.30 L347.74,238.89 L348.48,238.49 L349.21,238.10 L349.95,237.72 L350.69,237.36 L351.43,237.01 L352.16,236.67 L352.90,236.35 L353.64,236.04 L354.37,235.75 L355.11,235.46 L355.85,235.20 L356.59,234.95 L357.32,234.71 L358.06,234.49 L358.80,234.29 L359.54,234.10 L360.27,233.93 L361.01,233.77 L361.75,233.63 L362.48,233.51 L363.22,233.40 L363.96,233.31 L364.70,233.24 L365.43,233.18 L366.17,233.15 L366.91,233.12 L367.64,233.12 L368.38,233.13 L369.12,233.16 L369.86,233.21 L370.59,233.27 L371.33,233.34 L372.07,233.44 L372.81,233.55 L373.54,233.67 L374.28,233.81 L375.02,233.97 L375.75,234.14 L376.49,234.33 L377.23,234.53 L377.97,234.75 L378.70,234.98 L379.44,235.23 L380.18,235.49 L380.92,235.77 L381.65,236.06 L382.39,236.36 L383.13,236.67 L383.86,237.00 L384.60,237.34 L385.34,237.70 L386.08,238.06 L386.81,238.44 L387.55,238.83 L388.29,239.23 L389.03,239.64 L389.76,240.06 L390.50,240.49 L391.24,240.93 L391.97,241.37 L392.71,241.83 L393.45,242.29 L394.19,242.77 L394.92,243.25 L395.66,243.73 L396.40,244.22 L397.13,244.72 L397.87,245.22 L398.61,245.73 L399.35,246.24 L400.08,246.76 L400.82,247.28 L401.56,247.80 L402.30,248.32 L403.03,248.85 L403.77,249.37 L404.51,249.90 L405.24,250.50 L405.98,251.20 L406.72,251.90 L407.46,252.60 L408.19,253.30 L408.93,253.99 L409.67,254.68 L410.41,255.37 L411.14,256.05 L411.88,256.73 L412.62,257.40 L413.35,258.07 L414.09,258.73 L414.83,259.38 L415.57,260.02 L416.30,260.65 L417.04,261.28 L417.78,261.89 L418.52,262.50 L419.25,263.09 L419.99,263.68 L420.73,264.25 L421.46,264.80 L422.20,265.35 L422.94,265.88 L423.68,266.40 L424.41,266.90 L425.15,267.39 L425.89,267.87 L426.62,268.33 L427.36,268.77 L428.10,269.19 L428.84,269.60 L429.57,270.00 L430.31,270.37 L431.05,270.73 L431.79,271.07 L432.52,271.39 L433.26,271.69 L434.00,271.97 L434.73,272.24 L435.47,272.48 L436.21,272.70 L436.95,272.91 L437.68,273.09 L438.42,273.26 L439.16,273.40 L439.90,273.53 L440.63,273.63 L441.37,273.71 L442.11,273.77 L442.84,273.81 L443.58,273.83 L444.32,273.83 L445.06,273.80 L445.79,273.73 L446.53,273.63 L447.27,273.50 L448.01,273.34 L448.74,273.15 L449.48,272.92 L450.22,272.66 L450.95,272.38 L451.69,272.06 L452.43,271.71 L453.17,271.33 L453.90,270.93 L454.64,270.49 L455.38,270.03 L456.11,269.54 L456.85,269.03 L457.59,268.49 L458.33,267.92 L459.06,267.33 L459.80,266.72 L460.54,266.08 L461.28,265.42 L462.01,264.74 L462.75,264.04 L463.49,263.33 L464.22,262.59 L464.96,261.84 L465.70,261.07 L466.44,260.29 L467.17,259.49 L467.91,258.68 L468.65,257.86 L469.39,257.02 L470.12,256.18 L470.86,255.33 L471.60,254.48 L472.33,253.61 L473.07,252.75 L473.81,251.88 L474.55,251.00 L475.28,250.11 L476.02,249.06 L476.76,248.01 L477.50,246.96 L478.23,245.91 L478.97,244.87 L479.71,243.83 L480.44,242.79 L481.18,241.76 L481.92,240.73 L482.66,239.71 L483.39,238.69 L484.13,237.69 L484.87,236.69 L485.60,235.69 L486.34,234.71 L487.08,233.74 L487.82,232.77 L488.55,231.82 L489.29,230.88 L490.03,229.95 L490.77,229.04 L491.50,228.13 L492.24,227.24 L492.98,226.37 L493.71,225.50 L494.45,224.66 L495.19,223.83 L495.93,223.01 L496.66,222.22 L497.40,221.44 L498.14,220.67 L498.88,219.93 L499.61,219.21 L500.35,218.50 L501.09,217.81 L501.82,217.15 L502.56,216.50 L503.30,215.87 L504.04,215.27 L504.77,214.69 L505.51,214.13 L506.25,213.59 L506.99,213.07 L507.72,212.58 L508.46,212.11 L509.20,211.66 L509.93,211.24 L510.67,210.84 L511.41,210.47 L512.15,210.12 L512.88,209.79 L513.62,209.49 L514.36,209.22 L515.10,208.97 L515.83,208.74 L516.57,208.54 L517.31,208.37 L518.04,208.22 L518.78,208.10 L519.52,208.01 L520.26,207.94 L520.99,207.89 L521.73,207.88 L522.47,207.89 L523.20,207.95 L523.94,208.05 L524.68,208.19 L525.42,208.37 L526.15,208.60 L526.89,208.86 L527.63,209.17 L528.37,209.52 L529.10,209.91 L529.84,210.34 L530.58,210.81 L531.31,211.32 L532.05,211.87 L532.79,212.46 L533.53,213.08 L534.26,213.74 L535.00,214.44 L535.74,215.18 L536.48,215.95 L537.21,216.75 L537.95,217.59 L538.69,218.46 L539.42,219.36 L540.16,220.29 L540.90,221.25 L541.64,222.24 L542.37,223.26 L543.11,224.31 L543.85,225.38 L544.59,226.48 L545.32,227.60 L546.06,228.74 L546.80,229.91 L547.53,231.10 L548.27,232.30 L549.01,233.52 L549.75,234.76 L550.48,236.02 L551.22,237.29 L551.96,238.57 L552.69,239.86 L553.43,241.16 L554.17,242.48 L554.91,243.80 L555.64,245.13 L556.38,246.46 L557.12,247.79 L557.86,249.13 L558.59,250.59 L559.33,252.55 L560.07,254.50 L560.80,256.46 L561.54,258.41 L562.28,260.35 L563.02,262.29 L563.75,264.21 L564.49,266.13 L565.23,268.03 L565.97,269.92 L566.70,271.79 L567.44,273.65 L568.18,275.49 L568.91,277.31 L569.65,279.11 L570.39,280.88 L571.13,282.63 L571.86,284.36 L572.60,286.06 L573.34,287.74 L574.07,289.38 L574.81,290.99 L575.55,292.57 L576.29,294.12 L577.02,295.64 L577.76,297.12 L578.50,298.56 L579.24,299.97 L579.97,301.34 L580.71,302.67 L581.45,303.95 L582.18,305.20 L582.92,306.40 L583.66,307.56 L584.40,308.68 L585.13,309.75 L585.87,310.77 L586.61,311.75 L587.35,312.68 L588.08,313.56 L588.82,314.40 L589.56,315.18 L590.29,315.91 L591.03,316.59 L591.77,317.22 L592.51,317.80 L593.24,318.33 L593.98,318.80 L594.72,319.22 L595.46,319.59 L596.19,319.90 L596.93,320.16 L597.67,320.37 L598.40,320.52 L599.14,320.61 L599.88,320.65 L600.62,320.63 L601.35,320.53 L602.09,320.33 L602.83,320.05 L603.56,319.67 L604.30,319.22 L605.04,318.67 L605.78,318.04 L606.51,317.33 L607.25,316.53 L607.99,315.65 L608.73,314.69 L609.46,313.65 L610.20,312.53 L610.94,311.33 L611.67,310.05 L612.41,308.70 L613.15,307.27 L613.89,305.78 L614.62,304.21 L615.36,302.58 L616.10,300.89 L616.84,299.12 L617.57,297.30 L618.31,295.42 L619.05,293.49 L619.78,291.49 L620.52,289.45 L621.26,287.36 L622.00,285.22 L622.73,283.04 L623.47,280.82 L624.21,278.56 L624.95,276.26 L625.68,273.93 L626.42,271.57 L627.16,269.19 L627.89,266.78 L628.63,264.35 L629.37,261.90 L630.11,259.44 L630.84,256.97 L631.58,254.49 L632.32,252.00 L633.05,249.42 L633.79,246.60 L634.53,243.79 L635.27,241.00 L636.00,238.22 L636.74,235.46 L637.48,232.72 L638.22,230.02 L638.95,227.36 L639.69,224.73 L640.43,222.15 L641.16,219.62 L641.90,217.15 L642.64,214.73 L643.38,212.37 L644.11,210.09 L644.85,207.87 L645.59,205.73 L646.33,203.67 L647.06,201.70 L647.80,199.81 L648.54,198.00 L649.27,196.30 L650.01,194.68 L650.75,193.17 L651.49,191.76 L652.22,190.45 L652.96,189.25 L653.70,188.15 L654.44,187.17 L655.17,186.30 L655.91,185.54 L656.65,184.90 L657.38,184.37 L658.12,183.96 L658.86,183.67 L659.60,183.50 L660.33,183.45 L661.07,183.62 L661.81,184.10 L662.54,184.88 L663.28,185.97 L664.02,187.36 L664.76,189.04 L665.49,191.00 L666.23,193.24 L666.97,195.74 L667.71,198.50 L668.44,201.50 L669.18,204.72 L669.92,208.15 L670.65,211.78 L671.39,215.59 L672.13,219.56 L672.87,223.67 L673.60,227.90 L674.34,232.24 L675.08,236.66 L675.82,241.15 L676.55,245.67 L677.29,250.22" fill="none" stroke="#4DBEEE" stroke-width="3.1" stroke-linejoin="round" stroke-linecap="butt"/><g><g transform="translate(33.87,502.51) scale(1,1.07)"><text x="0" y="0" font-family='"Liberation Sans", sans-serif' font-size="18.7" fill="#000" >-3</text></g><g transform="translate(33.87,421.08) scale(1,1.07)"><text x="0" y="0" font-family='"Liberation Sans", sans-serif' font-size="18.7" fill="#000" >-2</text></g><g transform="translate(33.87,339.65) scale(1,1.07)"><text x="0" y="0" font-family='"Liberation Sans", sans-serif' font-size="18.7" fill="#000" >- </text><path transform="translate(6.227,0) scale(0.009131,-0.008766)" d="M763,0 L583,0 L583,1147 Q518,1085 415,1024.5 Q312,964 223,931 L223,1105 Q374,1176 486,1276 Q598,1376 646,1466 L763,1466 Z" fill="#000"/></g><g transform="translate(39.30,258.22) scale(1,1.07)"><text x="0" y="0" font-family='"Liberation Sans", sans-serif' font-size="18.7" fill="#000" >0</text></g><g transform="translate(39.30,176.79) scale(1,1.07)"><text x="0" y="0" font-family='"Liberation Sans", sans-serif' font-size="18.7" fill="#000" > </text><path transform="translate(0.000,0) scale(0.009131,-0.008766)" d="M763,0 L583,0 L583,1147 Q518,1085 415,1024.5 Q312,964 223,931 L223,1105 Q374,1176 486,1276 Q598,1376 646,1466 L763,1466 Z" fill="#000"/></g><g transform="translate(39.30,95.36) scale(1,1.07)"><text x="0" y="0" font-family='"Liberation Sans", sans-serif' font-size="18.7" fill="#000" >2</text></g><g transform="translate(39.30,13.93) scale(1,1.07)"><text x="0" y="0" font-family='"Liberation Sans", sans-serif' font-size="18.7" fill="#000" >3</text></g><g transform="translate(52.80,521.60) scale(1,1.07)"><text x="0" y="0" font-family='"Liberation Sans", sans-serif' font-size="18.7" fill="#000" >0</text></g><g transform="translate(141.27,521.60) scale(1,1.07)"><text x="0" y="0" font-family='"Liberation Sans", sans-serif' font-size="18.7" fill="#000" >3</text></g><g transform="translate(229.74,521.60) scale(1,1.07)"><text x="0" y="0" font-family='"Liberation Sans", sans-serif' font-size="18.7" fill="#000" >6</text></g><g transform="translate(318.21,521.60) scale(1,1.07)"><text x="0" y="0" font-family='"Liberation Sans", sans-serif' font-size="18.7" fill="#000" >9</text></g><g transform="translate(401.48,521.60) scale(1,1.07)"><text x="0" y="0" font-family='"Liberation Sans", sans-serif' font-size="18.7" fill="#000" > 2</text><path transform="translate(0.000,0) scale(0.009131,-0.008766)" d="M763,0 L583,0 L583,1147 Q518,1085 415,1024.5 Q312,964 223,931 L223,1105 Q374,1176 486,1276 Q598,1376 646,1466 L763,1466 Z" fill="#000"/></g><g transform="translate(489.95,521.60) scale(1,1.07)"><text x="0" y="0" font-family='"Liberation Sans", sans-serif' font-size="18.7" fill="#000" > 5</text><path transform="translate(0.000,0) scale(0.009131,-0.008766)" d="M763,0 L583,0 L583,1147 Q518,1085 415,1024.5 Q312,964 223,931 L223,1105 Q374,1176 486,1276 Q598,1376 646,1466 L763,1466 Z" fill="#000"/></g><g transform="translate(578.42,521.60) scale(1,1.07)"><text x="0" y="0" font-family='"Liberation Sans", sans-serif' font-size="18.7" fill="#000" > 8</text><path transform="translate(0.000,0) scale(0.009131,-0.008766)" d="M763,0 L583,0 L583,1147 Q518,1085 415,1024.5 Q312,964 223,931 L223,1105 Q374,1176 486,1276 Q598,1376 646,1466 L763,1466 Z" fill="#000"/></g><g transform="translate(666.89,521.60) scale(1,1.07)"><text x="0" y="0" font-family='"Liberation Sans", sans-serif' font-size="18.7" fill="#000" >2 </text><path transform="translate(10.400,0) scale(0.009131,-0.008766)" d="M763,0 L583,0 L583,1147 Q518,1085 415,1024.5 Q312,964 223,931 L223,1105 Q374,1176 486,1276 Q598,1376 646,1466 L763,1466 Z" fill="#000"/></g></g><text x="367.64" y="549.6" text-anchor="middle" font-family='"Liberation Sans", sans-serif' font-size="20.9" fill="#000">Time (s)</text><text transform="translate(21.6,250.6) rotate(-90)" x="0" y="0" text-anchor="middle" font-family='"Liberation Sans", sans-serif' font-size="20.9" fill="#000">Jerk (°/s<tspan dy="-11" font-size="14.6">3</tspan><tspan dy="11" dx="1">)</tspan></text><rect x="440.5" y="10.1" width="124" height="144.5" fill="#ffffff" stroke="#262626" stroke-width="1.2"/><line x1="446" y1="24.30" x2="503" y2="24.30" stroke="#0072BD" stroke-width="3.1"/><g transform="translate(508.00,31.20) scale(1,1.0)"><text x="0" y="0" font-family='"Liberation Sans", sans-serif' font-size="16.8" fill="#000" >Joint  </text><path transform="translate(40.154,0) scale(0.008203,-0.007875)" d="M763,0 L583,0 L583,1147 Q518,1085 415,1024.5 Q312,964 223,931 L223,1105 Q374,1176 486,1276 Q598,1376 646,1466 L763,1466 Z" fill="#000"/></g><line x1="446" y1="47.64" x2="503" y2="47.64" stroke="#D95319" stroke-width="3.1"/><g transform="translate(508.00,54.54) scale(1,1.0)"><text x="0" y="0" font-family='"Liberation Sans", sans-serif' font-size="16.8" fill="#000" >Joint 2</text></g><line x1="446" y1="70.98" x2="503" y2="70.98" stroke="#EDB120" stroke-width="3.1"/><g transform="translate(508.00,77.88) scale(1,1.0)"><text x="0" y="0" font-family='"Liberation Sans", sans-serif' font-size="16.8" fill="#000" >Joint 4</text></g><line x1="446" y1="94.32" x2="503" y2="94.32" stroke="#7E2F8E" stroke-width="3.1"/><g transform="translate(508.00,101.22) scale(1,1.0)"><text x="0" y="0" font-family='"Liberation Sans", sans-serif' font-size="16.8" fill="#000" >Joint 5</text></g><line x1="446" y1="117.66" x2="503" y2="117.66" stroke="#77AC30" stroke-width="3.1"/><g transform="translate(508.00,124.56) scale(1,1.0)"><text x="0" y="0" font-family='"Liberation Sans", sans-serif' font-size="16.8" fill="#000" >Joint 6</text></g><line x1="446" y1="141.00" x2="503" y2="141.00" stroke="#4DBEEE" stroke-width="3.1"/><g transform="translate(508.00,147.90) scale(1,1.0)"><text x="0" y="0" font-family='"Liberation Sans", sans-serif' font-size="16.8" fill="#000" >Joint 7</text></g></svg>
</body></html>
